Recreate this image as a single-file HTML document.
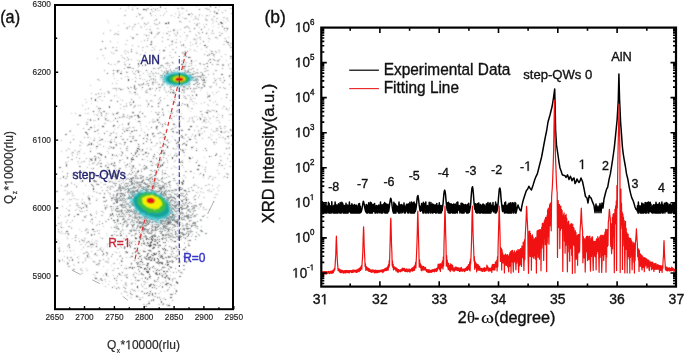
<!DOCTYPE html>
<html><head><meta charset="utf-8"><style>
html,body{margin:0;padding:0;background:#fff;}
svg{display:block;font-family:"Liberation Sans",sans-serif;will-change:transform;}
text{stroke-width:0.35px;}
</style></head><body>
<svg width="685" height="354" viewBox="0 0 685 354">
<defs><filter id="bl" x="-20%" y="-20%" width="140%" height="140%"><feTurbulence type="fractalNoise" baseFrequency="0.35" numOctaves="2" seed="3" result="t"/><feDisplacementMap in="SourceGraphic" in2="t" scale="2.6" xChannelSelector="R" yChannelSelector="G" result="d"/><feConvolveMatrix in="d" order="3" kernelMatrix="1 2 1 2 4 2 1 2 1" divisor="16" edgeMode="none" preserveAlpha="false"/></filter>
<filter id="sb" x="-20%" y="-20%" width="140%" height="140%"><feConvolveMatrix order="3" kernelMatrix="1 2 1 2 4 2 1 2 1" divisor="16" edgeMode="none" preserveAlpha="false"/></filter>
<filter id="soft" x="0" y="0" width="685" height="354" filterUnits="userSpaceOnUse"><feConvolveMatrix order="3" kernelMatrix="1 2 1 2 16 2 1 2 1" divisor="28" edgeMode="duplicate" preserveAlpha="false"/></filter>
<filter id="db" x="0" y="0" width="100%" height="100%"><feConvolveMatrix order="3" kernelMatrix="1 2 1 2 8 2 1 2 1" divisor="20" edgeMode="none" preserveAlpha="false"/></filter></defs>
<rect width="685" height="354" fill="#fff"/>
<g shape-rendering="crispEdges" stroke-width="1" filter="url(#db)">
<path stroke="#9c9c9c" d="M132 38.5h2M139 14.5h2M177 219.5h2M182 193.5h2M120 8.5h1M146 288.5h1M199 204.5h2M155 76.5h1M123 238.5h1M66 222.5h1M100 248.5h1M100 89.5h1M152 121.5h1M88 197.5h1M131 211.5h1M98 263.5h2M145 203.5h2M136 273.5h1M183 269.5h2M86 158.5h1M96 184.5h2M186 26.5h2M102 190.5h1M132 68.5h2M139 193.5h2M180 36.5h1M110 41.5h1M129 242.5h1M213 131.5h1M113 53.5h1M150 183.5h1M170 76.5h1M182 149.5h1M90 148.5h1M111 186.5h2M207 113.5h1M127 192.5h2M142 297.5h1M152 171.5h1M170 201.5h1M120 255.5h1M184 215.5h1M175 190.5h2M101 280.5h2M169 287.5h1M105 184.5h1M216 130.5h2M203 75.5h2M124 291.5h2M164 71.5h1M126 285.5h1M124 268.5h1M124 287.5h1M163 58.5h1M80 166.5h1M211 139.5h1M176 39.5h1M146 10.5h1M194 91.5h1M231 13.5h1M166 33.5h2M97 153.5h2M164 201.5h1M219 126.5h2M215 37.5h2M141 284.5h1M138 84.5h2M128 178.5h1M116 235.5h2M179 236.5h1M159 236.5h1M117 171.5h2M179 169.5h1M116 226.5h2M137 253.5h1M72 193.5h1M158 167.5h2M225 10.5h1M217 64.5h2M131 283.5h2M131 294.5h2M185 64.5h1M58 231.5h1M135 5.5h1M67 258.5h1M165 8.5h1M140 222.5h1M185 195.5h1M180 116.5h2M149 88.5h2M125 178.5h1M162 264.5h1M172 279.5h1M219 122.5h1M164 139.5h1M179 237.5h1M216 21.5h1M87 232.5h2M197 221.5h1M169 256.5h2M153 122.5h1M95 156.5h1M138 213.5h1M144 116.5h1M93 140.5h2M149 89.5h2M74 184.5h1M185 171.5h2M170 113.5h2M201 203.5h1M123 116.5h2M99 193.5h2M216 92.5h1M162 37.5h1M155 224.5h1M215 51.5h1M150 139.5h1M67 263.5h2M130 291.5h1M203 64.5h2M119 242.5h1M144 284.5h1M135 191.5h1M78 151.5h2M85 216.5h1M154 234.5h1M115 50.5h2M94 234.5h1M99 110.5h1M204 54.5h1M162 41.5h1M188 137.5h1M229 114.5h1M143 168.5h2M192 118.5h1M100 49.5h2M155 180.5h1M176 47.5h1M97 115.5h1M168 79.5h1M120 148.5h1M121 78.5h1M96 213.5h1M86 124.5h2M131 242.5h1M184 76.5h1M126 214.5h1M206 24.5h1M103 33.5h1M204 215.5h1M65 233.5h1M137 296.5h1M188 66.5h1M140 105.5h1M186 10.5h1M215 60.5h1M119 263.5h1M174 30.5h1M192 190.5h1M211 86.5h1M229 84.5h1M118 229.5h1M213 116.5h1M111 227.5h1M184 104.5h2M104 96.5h1M220 80.5h1M110 30.5h1M182 52.5h1M87 174.5h1M121 214.5h1M67 262.5h1M226 108.5h1M107 169.5h1M196 192.5h1M195 16.5h1M114 234.5h1M160 97.5h1M153 185.5h2M164 178.5h1M60 178.5h1M174 237.5h2M219 35.5h2M125 165.5h2M146 100.5h1M191 13.5h1M94 138.5h1M165 234.5h1M168 105.5h1M140 54.5h1M152 83.5h1M222 12.5h1M90 221.5h1M122 261.5h1M134 187.5h1M151 15.5h1M213 54.5h2M68 266.5h2M175 5.5h1M171 15.5h1M154 156.5h1M175 189.5h2M69 193.5h1M131 116.5h2M115 144.5h2M216 128.5h2M211 51.5h2M181 165.5h2M84 202.5h1M208 38.5h1M210 118.5h1M91 144.5h1M161 147.5h1M178 96.5h1M163 163.5h1M227 158.5h1M208 74.5h1M103 259.5h1M162 304.5h2M72 155.5h1M203 121.5h2M107 244.5h1M100 112.5h1M114 141.5h1M144 206.5h1M84 137.5h1M158 236.5h1M108 258.5h1M147 106.5h1M211 191.5h1M103 146.5h1M193 190.5h1M133 138.5h1M192 101.5h1M166 70.5h1M152 211.5h1M87 145.5h1M188 243.5h1M116 201.5h1M154 95.5h2M207 97.5h1M122 133.5h1M139 164.5h1M220 131.5h1M173 215.5h1M141 27.5h1M181 105.5h1M99 108.5h1M172 41.5h1M122 57.5h1M177 32.5h1M58 229.5h1M141 18.5h1M113 187.5h1M183 92.5h2M99 224.5h1M169 45.5h1M167 275.5h1M165 137.5h1M220 78.5h1M88 108.5h1M170 69.5h1M227 29.5h1M160 137.5h1M129 240.5h1M217 104.5h1M115 165.5h1M192 118.5h1M185 98.5h2M95 278.5h1M184 265.5h1M189 228.5h2M152 88.5h1M223 77.5h1M163 274.5h1M184 215.5h1M125 251.5h2M144 211.5h1M179 211.5h1M146 92.5h2M181 85.5h1M132 136.5h2M222 65.5h2M106 165.5h1M154 194.5h1M84 216.5h1M89 200.5h1M166 70.5h1M172 128.5h1M68 210.5h2M184 216.5h1M216 142.5h1M150 206.5h1M136 187.5h1M144 269.5h1M182 183.5h2M77 154.5h1M191 65.5h1M205 167.5h1M89 142.5h1M127 57.5h1M134 5.5h1M177 33.5h1M204 119.5h1M194 39.5h2M207 110.5h2M230 100.5h1M131 229.5h1M114 155.5h1M151 251.5h1M161 165.5h2M195 205.5h2M213 33.5h1M106 190.5h1M98 162.5h1M116 224.5h1M172 234.5h1M178 144.5h2M209 176.5h2M106 255.5h1M155 80.5h1M166 260.5h2M113 183.5h2M213 55.5h1M69 199.5h1M127 115.5h1M166 186.5h2M65 216.5h1M150 78.5h1M130 104.5h2M134 140.5h2M141 255.5h1M219 59.5h1M155 72.5h1M129 26.5h1M148 103.5h1M145 197.5h2M83 171.5h1M152 203.5h2M85 260.5h1M116 133.5h1M203 78.5h1M139 261.5h1M77 173.5h1M199 33.5h1M88 137.5h1M109 238.5h1M220 156.5h1M191 171.5h1M115 179.5h1M127 87.5h1M69 226.5h1M139 280.5h1M117 235.5h1M166 158.5h1M110 100.5h1M226 109.5h1M94 156.5h2M111 200.5h2M192 157.5h1M141 291.5h1M133 225.5h1M108 120.5h1M164 144.5h1M159 187.5h1M160 65.5h1M89 142.5h1M118 188.5h1M93 175.5h1M170 31.5h1M210 111.5h1M95 254.5h1M111 139.5h1M131 264.5h1M221 165.5h2M216 12.5h1M215 70.5h2M141 84.5h2M67 220.5h1M144 132.5h1M175 127.5h1M226 94.5h2M145 167.5h2M94 254.5h1M183 256.5h1M230 43.5h1M122 124.5h1M230 161.5h1M188 217.5h2M114 34.5h1M104 70.5h1M109 181.5h2M80 269.5h1M152 158.5h2M125 187.5h1M129 166.5h1M72 173.5h1M147 83.5h2M117 34.5h2M81 162.5h1M110 135.5h1M198 32.5h1M147 282.5h1M184 27.5h2M197 69.5h1M164 57.5h1M110 133.5h2M139 112.5h1M67 157.5h2M191 69.5h1M179 21.5h2M157 245.5h2M167 160.5h1M183 152.5h2M196 35.5h1M225 138.5h1M113 174.5h1M121 151.5h1M163 115.5h1M70 257.5h2M221 132.5h1M167 71.5h2M134 171.5h1M178 258.5h1M135 105.5h1M136 34.5h2M228 44.5h1M230 130.5h2M205 8.5h1M216 52.5h1M105 165.5h1M171 41.5h1M138 193.5h1M141 274.5h1M180 83.5h1M67 264.5h1M126 72.5h2M125 284.5h1M76 157.5h1M141 169.5h1M171 78.5h1M161 206.5h2M136 88.5h1M149 35.5h1M83 128.5h1M154 23.5h1M128 67.5h1M151 79.5h1M194 50.5h1M188 233.5h1M144 40.5h1M182 183.5h2M133 200.5h1M114 231.5h1M154 49.5h1M169 35.5h1M104 173.5h2M161 178.5h2M85 258.5h1M174 33.5h1M183 8.5h1M166 184.5h1M205 171.5h1M168 269.5h1M132 241.5h1M150 278.5h1M113 215.5h1M167 305.5h1M58 223.5h2M204 131.5h1M184 261.5h1M66 150.5h1M113 238.5h1M166 63.5h2M157 8.5h1M114 263.5h1M172 237.5h2M138 46.5h1M67 238.5h1M199 117.5h1M189 118.5h1M132 138.5h1M86 229.5h1M206 119.5h1M200 111.5h2M220 128.5h1M128 174.5h1M91 160.5h2M166 202.5h1M107 262.5h1M184 70.5h2M134 115.5h2M159 102.5h1M199 133.5h1M72 220.5h1M189 77.5h2M163 298.5h1M109 187.5h1M179 125.5h1M183 199.5h2M190 232.5h1M158 122.5h2M219 137.5h1M136 16.5h1M161 273.5h1M92 163.5h2M204 120.5h1M114 166.5h1M115 88.5h2M230 47.5h2M212 53.5h1M189 57.5h2M161 275.5h2M142 264.5h1M130 191.5h2M91 168.5h1M104 205.5h1M135 259.5h1M145 9.5h2M172 300.5h1M194 206.5h1M152 11.5h1M116 252.5h1M178 262.5h1M147 40.5h1M159 22.5h1M130 247.5h1M102 255.5h1M122 116.5h1M105 273.5h1M127 27.5h1M199 63.5h2M101 93.5h1M168 194.5h1M156 217.5h1M99 140.5h2M168 262.5h1M126 105.5h1M71 199.5h1M101 250.5h1M156 281.5h1M83 247.5h1M147 8.5h2M71 159.5h2M116 231.5h1M208 178.5h1M144 244.5h1M163 146.5h1M66 166.5h1M72 195.5h1M99 221.5h1"/>
<path stroke="#cccccc" d="M143 271.5h1M160 285.5h1M168 63.5h2M97 142.5h1M161 115.5h1M196 126.5h2M193 197.5h1M130 297.5h2M164 274.5h1M190 69.5h1M146 217.5h1M111 158.5h2M74 195.5h1M114 64.5h2M207 96.5h1M172 232.5h1M149 302.5h1M140 117.5h1M115 227.5h2M91 258.5h1M115 200.5h1M212 23.5h1M76 209.5h1M194 138.5h2M144 256.5h1M134 272.5h2M82 143.5h1M207 92.5h1M141 128.5h1M87 207.5h1M175 78.5h1M142 261.5h1M210 123.5h1M118 235.5h1M114 251.5h1M129 163.5h2M231 50.5h1M111 265.5h1M185 87.5h1M177 215.5h2M97 97.5h2M154 177.5h1M180 86.5h1M144 159.5h1M218 165.5h2M198 17.5h1M159 141.5h1M183 167.5h1M126 236.5h1M221 98.5h1M133 113.5h1M130 36.5h1M81 201.5h1M205 122.5h2M223 44.5h2M95 261.5h1M178 271.5h1M218 173.5h2M204 117.5h2M176 256.5h2M156 34.5h2M125 253.5h1M132 79.5h1M206 80.5h1M87 119.5h2M184 243.5h1M70 251.5h1M174 161.5h1M144 54.5h1M152 101.5h1M125 155.5h1M127 292.5h1M173 57.5h1M163 204.5h1M117 42.5h1M156 82.5h2M64 186.5h2M216 120.5h1M111 181.5h2M173 292.5h1M78 199.5h1M120 99.5h1M133 127.5h2M167 204.5h1M140 195.5h1M68 192.5h2M207 112.5h1M184 242.5h1M159 67.5h2M208 116.5h1M167 199.5h2M189 161.5h1M158 119.5h1M59 243.5h1M139 85.5h1M161 133.5h2M112 200.5h1M67 191.5h1M155 262.5h1M90 138.5h1M195 34.5h1M164 87.5h1M208 35.5h1M150 94.5h1M110 64.5h2M118 31.5h1M223 177.5h1M151 50.5h2M94 114.5h1M142 228.5h1M196 139.5h1M91 100.5h1M91 246.5h1M153 136.5h1M170 141.5h1M73 198.5h2M131 284.5h1M225 22.5h1M128 128.5h1M150 186.5h1M73 135.5h1M147 304.5h1M163 266.5h1M203 150.5h1M107 20.5h1M136 247.5h1M140 151.5h2M172 281.5h1M145 184.5h1M160 204.5h1M128 8.5h1M142 238.5h1M188 95.5h2M155 46.5h1M92 218.5h1M125 129.5h1M107 254.5h1M216 79.5h1M194 61.5h1M112 182.5h2M136 78.5h1M213 102.5h1M196 6.5h1M164 235.5h1M142 17.5h2M164 227.5h2M104 279.5h2M105 115.5h2M63 227.5h1M58 240.5h1M169 187.5h2M64 261.5h1M178 11.5h1M174 101.5h1M112 173.5h1M134 208.5h1M196 60.5h1M207 32.5h1M96 198.5h1M97 199.5h1M189 120.5h1M119 263.5h1M211 110.5h2M72 238.5h1M150 26.5h1M88 230.5h1M143 275.5h1M138 274.5h2M171 75.5h1M112 88.5h2M92 239.5h1M209 15.5h1M122 174.5h1M165 153.5h1M137 116.5h1M128 77.5h1M76 187.5h1M71 113.5h1M187 36.5h1M174 16.5h1M207 104.5h1M158 293.5h2M137 186.5h2M182 17.5h1M172 256.5h1M129 219.5h1M204 68.5h1M80 142.5h2M210 39.5h1M98 113.5h1M169 303.5h1M123 285.5h1M137 182.5h1M166 167.5h2M74 150.5h2M102 55.5h2M165 150.5h1M156 165.5h2M159 132.5h1M131 279.5h1M92 222.5h1M167 211.5h2M67 201.5h1M88 195.5h1M99 158.5h2M163 33.5h1M145 84.5h2M68 161.5h1M145 92.5h1M113 172.5h1M133 252.5h1M95 120.5h1M153 59.5h1M179 12.5h1M125 167.5h2M159 210.5h2M104 194.5h1M149 251.5h2M172 78.5h1M202 166.5h1M71 153.5h2M166 190.5h1M168 202.5h1M85 252.5h1M73 250.5h1M154 199.5h2M84 211.5h1M120 117.5h2M169 218.5h2M109 146.5h2M173 166.5h2M144 137.5h1M191 16.5h1M147 89.5h1M211 53.5h1M86 233.5h1M213 16.5h2M108 113.5h1M77 161.5h2M171 266.5h1M150 147.5h1M164 253.5h1M147 282.5h1M213 22.5h1M106 131.5h2M129 242.5h2M119 229.5h1M203 24.5h1M216 194.5h2M216 85.5h1M218 27.5h1M140 135.5h1M130 215.5h1M175 84.5h1M78 238.5h1M151 111.5h1M212 20.5h2M121 247.5h1M89 158.5h2M125 76.5h1M160 102.5h1M148 301.5h2M194 102.5h1M111 197.5h2M144 26.5h1M175 290.5h2M98 265.5h1M109 189.5h1M172 278.5h2M125 205.5h1M109 281.5h1M93 246.5h1M183 97.5h2M115 181.5h1M230 75.5h2M69 205.5h2M156 68.5h1M114 176.5h1M73 264.5h1M146 148.5h2M159 215.5h1M202 15.5h1M89 181.5h1M87 229.5h1M85 113.5h1M154 217.5h2M162 254.5h2M67 175.5h1M86 270.5h2M117 80.5h1M201 192.5h1M95 174.5h1M131 216.5h1M150 278.5h1M139 65.5h1M135 119.5h1M133 276.5h2M191 117.5h2M141 89.5h1M152 47.5h2M201 133.5h2M162 182.5h2M126 185.5h1M218 185.5h2M126 242.5h1M116 280.5h1M108 141.5h1M174 191.5h1M144 34.5h1M216 84.5h1M193 104.5h1M152 119.5h2M107 270.5h1M128 130.5h2M140 71.5h1M117 127.5h2M178 228.5h1M197 134.5h1M78 256.5h1M135 175.5h1M95 240.5h2M180 41.5h1M153 54.5h1M208 41.5h1M141 41.5h1M78 258.5h1M144 79.5h1M180 247.5h1M159 132.5h1M176 126.5h1M231 105.5h2M168 111.5h1M205 112.5h1M179 249.5h1M108 243.5h2M126 243.5h2M159 10.5h1M213 94.5h1M114 129.5h1M169 269.5h1M208 55.5h2M147 72.5h1M179 136.5h1M125 266.5h1M159 149.5h1M227 20.5h2M116 283.5h2M59 247.5h1M213 26.5h1M97 101.5h1M144 200.5h1M201 49.5h1M129 92.5h1M64 190.5h2M203 78.5h1M181 7.5h1M218 78.5h2M67 250.5h1M194 92.5h1M185 255.5h1M167 27.5h1M126 292.5h1M89 196.5h1M223 132.5h1M117 248.5h2M154 136.5h2M177 183.5h1M150 100.5h1M149 32.5h2M93 120.5h2M151 61.5h1M118 97.5h1M194 38.5h1M94 277.5h2M101 112.5h1M174 84.5h2M155 232.5h1M165 280.5h1M155 272.5h1M158 304.5h2M91 103.5h1M89 246.5h1M187 95.5h1M226 60.5h1M105 141.5h1M185 40.5h1M131 93.5h1M203 197.5h2M209 38.5h1M103 184.5h2M182 77.5h1M79 229.5h1M126 229.5h1M66 194.5h2M126 71.5h1M163 66.5h1M86 251.5h1M129 257.5h2M195 98.5h1M223 20.5h1M174 202.5h1M189 101.5h1M218 24.5h2M208 70.5h1M79 153.5h1M158 99.5h1M100 99.5h1M152 257.5h1M140 165.5h1M170 52.5h1M160 124.5h1M198 79.5h1M87 257.5h2M73 269.5h1M183 52.5h1M210 50.5h1M81 249.5h1M224 139.5h2M123 117.5h1M175 255.5h1M97 250.5h2M96 183.5h1M115 70.5h1M158 286.5h2M123 285.5h1M187 121.5h2M81 231.5h1M152 158.5h1M158 161.5h2M84 241.5h1M178 129.5h1M154 11.5h1M170 275.5h1M74 254.5h1M155 20.5h1M212 135.5h1M106 233.5h1M119 179.5h1M83 161.5h2M205 17.5h1M179 82.5h1M87 196.5h1M125 44.5h2M229 120.5h1M109 187.5h1M67 236.5h1M216 7.5h1M133 26.5h2M150 101.5h1M98 125.5h1M140 121.5h1M202 116.5h1M196 51.5h1M187 89.5h1M188 108.5h1M202 122.5h1M126 40.5h2M215 194.5h1M77 161.5h2M199 174.5h1M194 173.5h1M129 91.5h2M163 155.5h2M69 149.5h1M203 121.5h1M180 207.5h2M218 23.5h1M144 248.5h1M80 244.5h2M171 99.5h1M177 141.5h2M143 166.5h1M206 51.5h1M220 135.5h1M164 246.5h1M224 38.5h1M146 46.5h1M175 167.5h2M170 65.5h1M126 157.5h1M87 113.5h2M83 242.5h1M148 35.5h2M165 281.5h2M120 246.5h1M96 106.5h2M195 65.5h1M92 234.5h1M106 177.5h1M121 144.5h1M108 178.5h2M100 182.5h2M172 120.5h1M182 178.5h1M63 233.5h1M166 285.5h2M142 79.5h1M181 22.5h1M136 53.5h2M226 27.5h1M114 96.5h1M139 15.5h1M169 55.5h2M159 138.5h1M189 49.5h2M204 157.5h1M173 90.5h1M102 283.5h1M181 165.5h1M80 244.5h2M81 270.5h1M123 127.5h1M198 192.5h1M124 215.5h1M206 8.5h2M124 109.5h1M190 111.5h1M196 18.5h1M107 235.5h1M164 134.5h1M105 47.5h1M150 78.5h2M170 154.5h1M163 50.5h2M116 95.5h1M158 120.5h1M143 238.5h1M157 133.5h2M153 146.5h1M200 130.5h1M128 210.5h1M98 144.5h2M218 10.5h1M164 258.5h1M90 159.5h1M153 257.5h1M95 275.5h1M191 149.5h1M132 7.5h1"/>
<path stroke="#585858" d="M128 189.5h2M129.5 244v2M162 258.5h2M73 269.5h1M126 130.5h2M153 207.5h1M72.5 259v2M193 71.5h1M108 167.5h1M162 267.5h2M167.5 139v2M182.5 136v2M187 228.5h2M120.5 195v2M183 265.5h1M131 170.5h1M186 197.5h1M105.5 118v2M157 239.5h1M181 135.5h1M184 66.5h2M152 248.5h2M150 5.5h2M206 150.5h1M170 294.5h2M145 152.5h2M189 240.5h2M114 227.5h1M140 250.5h1M116 170.5h1M150 161.5h2M176 143.5h1M152.5 293v2M142.5 180v2M106.5 273v2M168 142.5h1M137.5 263v2M147 238.5h1M153.5 299v2M184 51.5h1M131 131.5h2M114 199.5h2M155.5 244v2M196 142.5h1M101 155.5h1M151.5 41v2M128 224.5h1M156 224.5h1M93 261.5h1M227 136.5h2M100 166.5h2M137 183.5h1M122 258.5h1M127 67.5h2M151 245.5h1M124 142.5h2M130 216.5h1M158 226.5h1M171 129.5h1M150 242.5h1M186 144.5h1M96 264.5h1M180 189.5h2M142.5 149v2M165 245.5h1M155 236.5h1M154 285.5h1M149 293.5h2M106.5 274v2M186 145.5h1M192 95.5h1M200 173.5h1M96 146.5h2M167.5 261v2M88 198.5h2M190 171.5h1M149 276.5h2M205 148.5h1M153.5 210v2M157 199.5h2M141 217.5h2M135 277.5h1M135 89.5h1M172 256.5h1M68 234.5h1M172 251.5h1M136 228.5h1M152.5 294v2M152 255.5h2M146 245.5h1M193 211.5h1M101 139.5h2M173 124.5h2M146 265.5h2M132 289.5h1M132 112.5h2M68 215.5h1M159 274.5h1M179 235.5h1M113 73.5h1M143 240.5h1M100 154.5h2M147 211.5h1M95.5 159v2M227 42.5h2M158 68.5h1M159 253.5h1M98 157.5h1M133 155.5h1M165 124.5h1M186.5 215v2M133 199.5h1M186 56.5h1M221.5 131v2M178 17.5h1M91.5 234v2M137 219.5h1M155 228.5h1M141 190.5h1M104 193.5h1M150 44.5h2M129 64.5h1M135 244.5h1M132 225.5h1M134 92.5h2M160 100.5h1M127.5 157v2M195 135.5h1M162 248.5h1M108 164.5h1M155 212.5h1M102 211.5h1M167.5 264v2M128 59.5h1M126 148.5h1M138 121.5h2M165 257.5h1M63.5 176v2M88 241.5h1M150 291.5h1M148 263.5h1M90 173.5h1M209 95.5h1M116 280.5h1M152 258.5h1M158 261.5h1M165 242.5h1M95 253.5h1M154 280.5h1M145.5 183v2M150 237.5h1M145 306.5h2M151 9.5h1M139 222.5h2M131 202.5h1M66.5 164v2M91 184.5h1M213 59.5h1M154 241.5h2M187.5 104v2M206 47.5h1M94 234.5h1M90.5 119v2M164 277.5h2M131 161.5h1M140 226.5h1M181 182.5h2M169 246.5h1M167 283.5h2M138 262.5h1M189 79.5h1M144 288.5h1M151 127.5h1M138 269.5h1M119 117.5h1M204.5 85v2M138 241.5h1M138.5 71v2M152 267.5h1M147 272.5h2M140 235.5h1M161.5 191v2M112 210.5h1M93 168.5h1M131 256.5h2M98 108.5h1M132 157.5h1M135 81.5h1M157 297.5h1M105.5 207v2M127 139.5h1M167 224.5h2M112.5 154v2M123 174.5h2M184.5 53v2M230 56.5h2M59.5 260v2M175 234.5h1M158 277.5h1M142 65.5h1M149 204.5h1M116 113.5h2M154 236.5h1M150.5 284v2M142 18.5h1M221 23.5h2M113.5 147v2M214 11.5h1M134 267.5h1M176 132.5h2M156 19.5h1M149 246.5h2M138.5 252v2M147 232.5h1M146 259.5h1M105.5 156v2M203.5 174v2M202 32.5h1M175 52.5h1M111 142.5h1M118 287.5h1M174 155.5h1M152 293.5h1M149 277.5h1M115 137.5h2M113 195.5h1M187 51.5h1M74 216.5h1M173 30.5h1M137 190.5h1M221 74.5h2M163 150.5h1M144 269.5h1M75 237.5h1M166 206.5h1M215 7.5h1M163 214.5h1M145.5 64v2M203 41.5h1M187 236.5h1M129 214.5h1M199 9.5h1M163 137.5h2M94.5 180v2"/>
<path stroke="#acacac" d="M200 39.5h1M89 242.5h1M227 143.5h2M96 148.5h1M139 264.5h2M174 139.5h1M95 94.5h2M153 186.5h2M126 60.5h1M124 185.5h1M128 52.5h1M179 14.5h1M94 127.5h1M176 251.5h1M185 134.5h2M145 116.5h1M114 239.5h2M108 92.5h2M138 146.5h2M124 162.5h1M196 148.5h1M143 73.5h1M132 187.5h1M185 47.5h1M144 204.5h2M75 113.5h1M174 198.5h2M153 246.5h1M189 31.5h2M82 270.5h1M207 9.5h1M109 182.5h1M62 206.5h1M67 193.5h1M61 140.5h1M146 29.5h1M132 45.5h1M77 124.5h2M88 254.5h1M222 64.5h2M105 221.5h2M219 32.5h1M156 288.5h1M178 145.5h1M105 261.5h2M129 116.5h2M155 112.5h2M165 203.5h1M156 143.5h2M120 104.5h1M120 191.5h1M96 225.5h1M226 18.5h2M181 239.5h1M157 243.5h1M194 184.5h1M206 127.5h2M193 71.5h2M103 275.5h1M166 11.5h1M177 208.5h1M174 210.5h1M65 186.5h2M132 71.5h1M197 160.5h1M124 15.5h2M204 127.5h2M196 76.5h2M139 135.5h1M147 139.5h1M85 109.5h1M179 126.5h2M78 205.5h1M213 201.5h1M105 118.5h2M126 106.5h1M200 72.5h2M61 231.5h1M193 205.5h2M67 246.5h1M185 237.5h1M186 35.5h2M166 140.5h1M116 278.5h1M199 23.5h1M153 227.5h1M105 166.5h1M205 19.5h2M164 72.5h1M130 136.5h1M201 114.5h2M58 201.5h1M214 16.5h1M226 31.5h1M164 267.5h2M86 242.5h2M216 153.5h1M164 13.5h1M160 160.5h2M159 205.5h1M161 70.5h1M197 38.5h1M84 204.5h2M116 90.5h1M178 245.5h1M194 130.5h1M135 77.5h1M179 260.5h1M155 175.5h1M175 190.5h1M113 238.5h1M181 92.5h1M111 52.5h1M196 25.5h2M219 87.5h2M192 134.5h1M173 123.5h1M217 170.5h1M167 277.5h2M147 46.5h1M123 230.5h1M159 164.5h1M224 88.5h2M98 129.5h1M79 210.5h1M134 24.5h2M173 132.5h1M141 258.5h1M119 170.5h1M75 235.5h2M157 183.5h2M76 205.5h2M67 233.5h2M184 89.5h1M136 212.5h1M185 144.5h1M92 158.5h1M119 185.5h2M176 156.5h2M184 208.5h1M121 71.5h1M70 222.5h1M101 187.5h1M157 263.5h1M128 6.5h1M185 149.5h1M164 206.5h2M89 164.5h1M120 246.5h1M105 286.5h1M175 246.5h2M192 14.5h1M126 103.5h1M140 85.5h1M117 62.5h1M153 8.5h1M137 186.5h1M184 204.5h1M158 254.5h1M68 148.5h1M89 203.5h2M122 100.5h1M113 275.5h1M105 170.5h1M123 287.5h2M85 244.5h1M181 61.5h1M183 56.5h2M130 105.5h1M118 70.5h2M196 185.5h1M172 101.5h1M119 288.5h1M139 297.5h1M58 217.5h1M159 50.5h1M169 84.5h1M139 97.5h1M171 260.5h2M83 253.5h2M177 8.5h2M135 173.5h2M117 268.5h2M172 81.5h1M229 68.5h1M182 232.5h1M69 131.5h2M150 278.5h1M192 120.5h1M168 155.5h1M211 156.5h1M135 280.5h1M169 87.5h1M173 63.5h1M137 94.5h1M166 304.5h1M190 97.5h1M100 279.5h2M62 199.5h2M158 103.5h1M155 172.5h1M158 32.5h2M167 223.5h1M70 130.5h1M179 95.5h1M145 52.5h1M104 93.5h1M215 101.5h1M103 249.5h1M224 126.5h2M153 260.5h1M137 193.5h1M189 21.5h1M160 256.5h1M181 211.5h1M163 15.5h1M132 214.5h1M191 236.5h1M134 201.5h2M126 28.5h2M127 148.5h1M144 217.5h2M72 173.5h2M172 235.5h1M169 217.5h1M165 63.5h1M164 123.5h1M89 161.5h1M175 42.5h2M114 286.5h1M185 177.5h1M120 256.5h1M119 256.5h1M198 130.5h1M181 8.5h2M112 47.5h2M184 18.5h1M114 139.5h1M165 204.5h1M96 243.5h1M192 234.5h1M148 74.5h1M132 27.5h1M83 161.5h2M65 178.5h2M206 15.5h2M116 228.5h1M134 106.5h1M154 121.5h2M71 191.5h1M106 190.5h2M91 93.5h1M113 120.5h1M166 92.5h1M171 249.5h1M158 281.5h1M149 29.5h2M198 80.5h1M107 151.5h1M197 23.5h1M213 82.5h2M165 122.5h1M97 58.5h1M193 185.5h2M227 174.5h2M135 74.5h1M131 117.5h1M136 295.5h1M120 136.5h2M160 143.5h1M182 151.5h1M121 55.5h1M154 268.5h2M147 135.5h1M173 128.5h1M163 185.5h2M177 67.5h1M228 65.5h1M132 183.5h2M154 226.5h1M61 233.5h1M160 283.5h1M182 60.5h1M203 120.5h1M230 58.5h2M100 278.5h2M135 94.5h1M82 199.5h1M225 38.5h1M103 254.5h1M121 293.5h1M195 43.5h2M188 79.5h2M231 72.5h1M216 117.5h2M199 195.5h1M178 270.5h2M167 62.5h1M164 98.5h1M179 15.5h1M197 79.5h1M176 111.5h1M82 220.5h2M168 289.5h1M158 270.5h1M175 35.5h2M163 162.5h2M166 262.5h1M141 232.5h1M213 73.5h1M208 137.5h2M129 122.5h1M184 51.5h2M230 63.5h1M216 139.5h1M174 102.5h2M140 78.5h1M59 232.5h1M159 98.5h1M121 193.5h1M82 105.5h1M169 65.5h1M138 154.5h2M138 105.5h1M93 274.5h1M124 51.5h1M118 273.5h2M159 23.5h1M224 132.5h1M132 29.5h1M135 278.5h1M183 92.5h1M187 106.5h2M203 177.5h1M150 267.5h1M87 133.5h1M177 249.5h1M165 278.5h1M86 252.5h2M160 159.5h2M189 28.5h1M163 141.5h1M208 121.5h1M128 217.5h1M98 280.5h1M214 144.5h1M196 41.5h1M159 161.5h1M101 215.5h2M87 246.5h2M95 217.5h1M103 201.5h1M136 175.5h1M150 73.5h1M219 126.5h2M117 112.5h2M86 207.5h1M157 33.5h2M145 61.5h2M157 192.5h1M180 193.5h1M224 168.5h1M97 79.5h2M92 223.5h1M121 280.5h1M71 228.5h1M208 105.5h1M209 86.5h1M127 128.5h1M127 76.5h1M132 37.5h2M134 235.5h1M131 59.5h1M155 240.5h2M124 62.5h1M119 170.5h1M213 177.5h1M120 191.5h1M116 83.5h1M136 52.5h1M163 193.5h1M144 264.5h1M168 31.5h1M96 211.5h1M140 105.5h1M125 53.5h1M221 56.5h1M173 261.5h1M117 72.5h1M181 8.5h1M176 39.5h1M155 145.5h1M99 80.5h1M86 102.5h1M112 83.5h1M87 167.5h1M151 100.5h1M219 6.5h1M121 247.5h1M225 54.5h1M119 162.5h1M215 177.5h1M171 168.5h1M209 111.5h1M228 132.5h1M147 23.5h1M164 242.5h1M118 88.5h2M86 122.5h2M174 285.5h1M181 83.5h1M61 222.5h1M182 273.5h1M140 111.5h1M92 196.5h1M193 122.5h1M221 128.5h1M191 108.5h2M209 59.5h1M138 154.5h1M154 296.5h2M222 33.5h1M206 162.5h1M210 11.5h1M68 245.5h2M155 82.5h1M204 27.5h1M72 152.5h2M118 208.5h1M177 208.5h2M146 138.5h2M204 102.5h1M138 214.5h2M120 108.5h1M118 214.5h2M68 226.5h1M203 126.5h1M61 185.5h1M146 156.5h2M178 80.5h2M137 244.5h1M138 23.5h1M143 84.5h1M99 260.5h2M152 11.5h1M124 238.5h1M114 165.5h1M229 45.5h1M172 174.5h2M112 113.5h1M154 191.5h2M182 53.5h1M169 219.5h2M190 99.5h2M136 218.5h1M158 60.5h1M116 47.5h1M126 257.5h1M150 201.5h1M98 280.5h1M179 73.5h1M157 24.5h1M159 53.5h1M212 185.5h1M203 209.5h1M135 71.5h1M119 61.5h1M179 129.5h1M171 113.5h2M184 32.5h1M76 199.5h1M229 147.5h1M154 281.5h2M172 40.5h1M99 96.5h2M126 150.5h2M231 68.5h1M186 26.5h1M143 168.5h1M167 39.5h2M74 269.5h1M214 12.5h1M222 82.5h2M111 52.5h1M117 259.5h1M123 175.5h1M137 189.5h2M152 163.5h1M136 250.5h2M176 272.5h1M99 160.5h2M96 164.5h2M99 261.5h1M144 242.5h1M138 13.5h1M107 91.5h2M211 33.5h1M220 160.5h2M147 253.5h1M74 175.5h1M133 229.5h1M172 240.5h1M224 153.5h1M177 112.5h1M186 251.5h2M188 27.5h1M174 99.5h2M108 192.5h1M143 281.5h2M77 257.5h1M155 90.5h1M231 87.5h1M168 257.5h2M199 37.5h2M94 162.5h1M139 61.5h1M223 87.5h1M217 60.5h2M218 120.5h1M72 175.5h1M124 220.5h1M163 205.5h1M186 141.5h2M122 199.5h1M193 89.5h1M214 60.5h2M185 18.5h2M62 171.5h1M157 178.5h1M190 42.5h1M202 138.5h1M94 242.5h1M130 87.5h2M109 243.5h1M169 67.5h1M105 173.5h1M150 293.5h1M162 81.5h2M212 30.5h1M207 46.5h1M159 112.5h1M102 251.5h1M127 295.5h1M222 117.5h1M221 33.5h1M197 119.5h1M171 57.5h1M113 208.5h1M217 187.5h1M167 162.5h1"/>
<path stroke="#bcbcbc" d="M118 176.5h1M172 42.5h1M138 196.5h1M71 182.5h1M172 280.5h1M180 42.5h1M137 70.5h2M146 126.5h1M116 136.5h1M157 152.5h1M77 152.5h1M131 165.5h1M133 196.5h1M109 193.5h2M104 117.5h1M80 149.5h1M222 108.5h1M171 74.5h2M104 133.5h1M171 241.5h1M209 189.5h1M136 181.5h2M64 256.5h1M182 63.5h2M115 168.5h1M184 243.5h1M216 18.5h2M158 112.5h2M124 23.5h1M123 106.5h2M133 5.5h1M115 206.5h1M108 262.5h1M147 269.5h1M150 149.5h2M231 144.5h2M165 47.5h1M92 243.5h1M94 231.5h2M61 151.5h1M104 58.5h1M210 134.5h1M183 138.5h2M93 144.5h1M137 177.5h1M171 112.5h2M161 150.5h2M106 120.5h2M86 215.5h1M174 288.5h1M87 178.5h1M192 213.5h2M101 211.5h2M215 131.5h1M164 291.5h1M91 251.5h1M159 67.5h1M133 290.5h1M229 142.5h1M100 144.5h1M114 147.5h1M91 247.5h1M80 211.5h2M175 84.5h1M63 251.5h1M66 176.5h2M208 184.5h2M125 283.5h2M78 207.5h1M90 148.5h1M208 9.5h2M114 197.5h1M80 181.5h1M143 304.5h2M217 61.5h2M172 49.5h2M184 96.5h2M168 176.5h2M162 108.5h1M105 209.5h1M134 215.5h2M193 197.5h1M110 186.5h1M131 201.5h2M177 30.5h1M164 184.5h1M161 257.5h2M78 177.5h1M219 52.5h1M154 185.5h1M230 78.5h2M107 246.5h1M189 63.5h1M126 239.5h2M193 146.5h1M148 265.5h1M163 51.5h1M187 35.5h1M86 210.5h2M163 192.5h1M184 75.5h1M149 122.5h1M175 149.5h1M165 130.5h1M158 241.5h1M87 137.5h1M108 276.5h1M85 217.5h1M91 173.5h2M179 56.5h1M173 225.5h2M139 261.5h1M209 100.5h2M216 104.5h1M163 152.5h1M231 69.5h1M136 152.5h1M133 137.5h1M60 167.5h1M80 141.5h1M85 185.5h1M88 257.5h1M103 226.5h1M222 137.5h2M225 142.5h1M148 22.5h1M99 230.5h1M84 153.5h1M128 233.5h2M186 257.5h1M176 148.5h1M178 251.5h1M173 116.5h2M212 31.5h1M143 250.5h1M196 116.5h1M147 160.5h1M136 70.5h1M196 76.5h1M139 237.5h1M172 136.5h1M121 235.5h1M123 129.5h1M155 24.5h2M188 69.5h2M226 40.5h1M62 259.5h1M192 44.5h1M183 190.5h2M185 135.5h1M78 163.5h1M218 134.5h1M185 62.5h2M162 137.5h2M213 189.5h1M180 29.5h1M162 71.5h1M206 20.5h2M190 212.5h1M167 95.5h1M142 154.5h1M79 207.5h2M176 195.5h1M174 278.5h2M228 148.5h2M121 275.5h1M139 234.5h1M200 43.5h1M158 218.5h1M182 160.5h1M86 133.5h1M107 181.5h1M196 24.5h2M212 92.5h1M114 226.5h1M164 58.5h1M158 278.5h1M81 273.5h2M96 255.5h2M79 145.5h2M101 247.5h1M209 191.5h1M60 226.5h1M159 244.5h1M229 45.5h2M113 263.5h1M115 206.5h1M136 222.5h2M157 129.5h1M155 233.5h1M142 47.5h2M177 175.5h1M182 201.5h1M199 87.5h1M193 121.5h2M200 64.5h1M108 164.5h2M160 224.5h1M165 72.5h1M218 114.5h1M195 224.5h1M193 208.5h2M103 266.5h1M141 18.5h2M104 123.5h2M199 15.5h1M214 197.5h2M154 135.5h1M56 239.5h1M173 29.5h2M165 170.5h1M97 224.5h1M147 101.5h1M108 93.5h1M167 65.5h1M66 208.5h1M84 217.5h1M163 83.5h1M197 73.5h2M110 121.5h1M173 180.5h2M208 29.5h1M222 33.5h1M137 60.5h1M125 10.5h1M144 79.5h1M108 22.5h1M129 102.5h2M193 98.5h1M62 260.5h1M132 127.5h2M196 86.5h2M170 82.5h1M160 142.5h1M108 153.5h1M157 229.5h2M145 91.5h1M180 199.5h1M175 153.5h2M115 33.5h2M156 285.5h1M181 137.5h1M228 64.5h1M97 231.5h1M168 211.5h2M133 73.5h2M75 210.5h1M202 116.5h1M200 90.5h1M88 253.5h1M99 137.5h1M170 87.5h2M93 231.5h1M224 128.5h1M203 192.5h1M98 163.5h1M159 132.5h1M117 156.5h1M164 223.5h2M119 274.5h2M122 129.5h2M223 17.5h2M152 84.5h2M85 238.5h1M225 164.5h1M74 265.5h1M157 186.5h1M182 118.5h2M125 282.5h1M228 138.5h1M109 135.5h1M228 37.5h1M150 180.5h1M91 241.5h1M126 223.5h1M162 220.5h2M108 260.5h1M207 190.5h2M208 60.5h1M82 262.5h2M119 213.5h1M181 129.5h1M229 166.5h2M125 275.5h2M98 111.5h1M157 28.5h2M187 240.5h2M218 50.5h2M153 162.5h1M114 88.5h1M168 70.5h1M142 50.5h1M166 145.5h1M178 149.5h1M124 275.5h1M157 172.5h1M145 135.5h1M223 106.5h2M216 83.5h1M147 38.5h2M178 243.5h1M154 20.5h1M158 256.5h1M135 283.5h1M173 236.5h1M159 255.5h2M175 160.5h1M216 64.5h1M205 77.5h2M94 125.5h1M125 50.5h1M178 239.5h1M97 264.5h2M197 46.5h1M140 234.5h2M179 229.5h2M167 174.5h1M157 10.5h1M82 211.5h1M117 179.5h1M122 159.5h1M126 235.5h1M97 175.5h1M175 13.5h1M123 202.5h2M170 257.5h1M155 15.5h1M209 118.5h2M207 94.5h1M194 23.5h1M119 125.5h1M123 233.5h1M230 8.5h2M108 186.5h1M199 27.5h1M114 95.5h1M109 216.5h1M154 37.5h1M191 136.5h1M187 70.5h2M178 172.5h2M158 64.5h1M118 25.5h1M140 228.5h1M175 180.5h1M186 204.5h1M61 224.5h1M183 95.5h1M195 202.5h1M110 196.5h1M85 99.5h1M139 238.5h1M162 112.5h2M90 85.5h1M103 212.5h1M123 89.5h1M166 239.5h1M224 41.5h1M197 19.5h2M88 176.5h1M114 268.5h1M98 233.5h2M114 78.5h1M155 36.5h1M184 155.5h1M138 290.5h1M198 131.5h1M113 216.5h1M183 175.5h2M108 180.5h1M117 50.5h1M127 51.5h1M228 110.5h1M171 248.5h1M179 197.5h1M141 278.5h2M196 103.5h1M125 65.5h1M119 252.5h1M76 203.5h2M106 207.5h2M148 230.5h1M93 191.5h2M131 210.5h1M137 244.5h1M157 213.5h1M226 131.5h1M139 221.5h1M83 193.5h1M141 186.5h1M171 44.5h2M96 157.5h1M89 256.5h1M218 9.5h1M165 91.5h1M181 113.5h1M226 28.5h1M126 117.5h2M211 129.5h1M105 281.5h1M144 288.5h1M168 268.5h1M144 34.5h1M97 241.5h1M138 250.5h1M186 38.5h1M145 24.5h2M94 262.5h1M108 284.5h1M133 107.5h1M58 248.5h2M124 184.5h1M120 200.5h1M58 259.5h1M102 100.5h1M180 136.5h1M214 56.5h1M119 154.5h1M213 74.5h1M180 36.5h1M165 68.5h2M126 128.5h1M194 71.5h1M190 45.5h1M213 110.5h2M166 188.5h1M140 123.5h1M138 188.5h1M159 265.5h1M126 183.5h1M193 39.5h2M139 60.5h1M177 185.5h2M96 244.5h1M129 136.5h1M126 274.5h2M218 91.5h1M112 270.5h2M116 142.5h1M174 161.5h1M150 140.5h1M193 19.5h1M134 228.5h1M146 304.5h1M211 19.5h1M170 271.5h1M96 192.5h2M128 268.5h1M148 129.5h1M119 143.5h2M204 117.5h2M83 240.5h2M81 268.5h1M147 259.5h1M194 216.5h2M98 133.5h1M171 195.5h1M225 131.5h1M194 116.5h1M138 185.5h1M201 103.5h1M97 230.5h1M230 43.5h2M180 235.5h1M118 218.5h1M100 237.5h1M194 136.5h2M139 75.5h2M226 173.5h2M165 183.5h2M180 82.5h1M229 108.5h1M208 61.5h1M137 156.5h1M171 251.5h1M57 178.5h1M86 268.5h1M140 250.5h1M200 191.5h1M148 22.5h1M125 247.5h1M190 220.5h1M160 15.5h1M205 209.5h2M155 215.5h1M160 291.5h1M151 31.5h1M138 263.5h1M212 18.5h1M131 289.5h2M168 241.5h1M118 172.5h1M162 282.5h2M176 115.5h1M147 80.5h1M135 291.5h1M178 104.5h1M107 162.5h1M70 250.5h1M108 148.5h2M151 258.5h1M99 249.5h2M160 123.5h1M224 176.5h2M141 130.5h1M150 286.5h1M224 30.5h1M140 125.5h1M182 13.5h1M134 241.5h2M143 264.5h1M178 72.5h1M71 227.5h1M138 191.5h1M218 190.5h1M217 38.5h1M205 185.5h2M204 169.5h2M180 82.5h2M86 228.5h1M84 238.5h1M139 78.5h1M117 118.5h1M96 114.5h1M113 75.5h1M106 205.5h2M81 239.5h1M118 70.5h1M170 253.5h1M110 189.5h1M140 26.5h1M173 241.5h1M127 175.5h1M126 236.5h1M204 26.5h1M199 14.5h1M65 162.5h2M60 215.5h1M68 244.5h2M124 64.5h2M71 183.5h1M142 177.5h2M167 139.5h1"/>
<path stroke="#808080" d="M94 131.5h2M124 58.5h1M157 163.5h2M142 262.5h1M142 274.5h2M69 260.5h1M142 224.5h2M151.5 230v2M139 117.5h1M151 106.5h1M152 106.5h1M151.5 259v2M158 133.5h1M222 68.5h1M128 210.5h1M129 233.5h1M127 146.5h1M135 197.5h2M129 127.5h1M117 276.5h1M160 153.5h2M173 253.5h1M166 240.5h1M142 286.5h1M79 158.5h1M161 262.5h1M181 161.5h1M88 129.5h2M96 200.5h1M147 224.5h2M212 179.5h1M158 263.5h2M160.5 187v2M130 133.5h1M138 66.5h1M138 192.5h1M168 91.5h1M141 245.5h1M171 247.5h1M67 257.5h1M135.5 217v2M153 79.5h1M125 177.5h1M111 256.5h1M178 249.5h1M85 230.5h1M198 187.5h1M149 233.5h2M92 244.5h2M136 150.5h2M144 216.5h2M171 254.5h1M135 152.5h2M158 260.5h1M104 201.5h2M124 144.5h1M143.5 240v2M175 268.5h1M153 247.5h2M139 299.5h2M167 76.5h1M134 290.5h1M160 188.5h2M146 90.5h1M122 139.5h2M152 134.5h1M213 142.5h2M136 211.5h1M145 282.5h1M125 199.5h1M139 237.5h2M166 237.5h1M176 236.5h2M160 222.5h2M195 18.5h1M182 103.5h1M153 210.5h1M91 219.5h2M177 146.5h1M159 87.5h2M137 266.5h1M145 153.5h1M163 303.5h1M124 68.5h1M147 264.5h1M148 239.5h2M157 237.5h1M206 63.5h2M212 64.5h1M159 117.5h1M164 152.5h1M174 257.5h2M180 272.5h2M203 207.5h1M158.5 206v2M111 164.5h1M142 291.5h1M176 281.5h1M201 188.5h1"/>
<path stroke="#242424" d="M167 105.5h1M91.5 143v2M150 242.5h2M142 262.5h1M149.5 285v2M175 231.5h1M161.5 202v2M141 207.5h2M133 159.5h1M226 41.5h1M141 259.5h1M93 111.5h1M174 241.5h2M167.5 146v2M155 293.5h1M99 153.5h1M219 163.5h1M165 214.5h1M139 149.5h1M147 265.5h1M179.5 121v2M96 246.5h1M178 142.5h1M162 276.5h1M216 111.5h1M144 257.5h1M128.5 79v2M95.5 99v2M186.5 199v2M143.5 228v2M141 273.5h1M137.5 286v2M158 103.5h1M177 105.5h2M145 220.5h2M127 164.5h1M164 252.5h1M160 147.5h1M135 238.5h2M82 203.5h1M162.5 164v2M177 196.5h2M151 242.5h1M151 142.5h1M157 258.5h1M156 253.5h1M149 211.5h1M98 184.5h1M144.5 213v2"/>
<path stroke="#6c6c6c" d="M157 269.5h1M122 272.5h1M153 271.5h1M156 274.5h1M179 176.5h1M141 190.5h1M121.5 260v2M116 145.5h1M56 191.5h2M139 232.5h1M182 150.5h2M151 241.5h1M106 113.5h1M88 144.5h2M141 171.5h1M152 295.5h1M147.5 278v2M171 294.5h2M102 238.5h1M142 238.5h1M183 143.5h2M156 191.5h1M147.5 212v2M139 227.5h2M169 266.5h1M160.5 6v2M132 9.5h1M113 203.5h2M155 245.5h1M79 166.5h1M160 299.5h1M165 264.5h1M133 217.5h1M211 53.5h1M146 229.5h1M172 131.5h2M65 134.5h2M152 133.5h2M169 261.5h2M130 67.5h1M193 177.5h1M208 96.5h2M125 288.5h1M159 154.5h1M130 178.5h2M154 170.5h1M176.5 258v2M157 182.5h1M162 172.5h1M108 63.5h1M102 223.5h1M188 245.5h2M162.5 262v2M168 278.5h2M119 168.5h2M70 142.5h1M181 130.5h2M173 272.5h1M148 250.5h1M156 126.5h2M79 241.5h1M222 115.5h1M164 144.5h2M131 49.5h1M124.5 246v2M152 229.5h1M126 277.5h2M191 187.5h1M182 144.5h1M137 199.5h1M154 235.5h1M144 169.5h1M151 254.5h1M157 279.5h1M117 200.5h1M111 163.5h1M167 250.5h1M175 293.5h1M154 239.5h2M130 141.5h1M93 180.5h1M75 240.5h1M162.5 286v2M145.5 277v2M135.5 153v2M145 258.5h2M181 45.5h1M112 254.5h1M146.5 166v2M147 243.5h2M155 227.5h2M110.5 141v2M182 188.5h1M59.5 250v2M106 200.5h1M183 234.5h2M137 280.5h2M179 162.5h2M166 224.5h2M148.5 257v2M146 265.5h1M127 204.5h2M229 154.5h1M135 248.5h1M122.5 152v2M138 182.5h1M159 297.5h1M120 195.5h1M166 271.5h1M229.5 75v2M156 288.5h1M150 260.5h1M76 186.5h1M179 276.5h2M148 259.5h1M120 89.5h2M144 182.5h1M166 283.5h1M114 176.5h2M158 185.5h1M165 257.5h2M116 155.5h1M133 209.5h1M59 167.5h2M148 295.5h2M191 63.5h1M113 125.5h2M128 67.5h2M114.5 162v2M141 243.5h1M188.5 234v2M226 97.5h1M147 292.5h1M67.5 184v2M183.5 44v2M98.5 118v2M153 136.5h1M127 188.5h1M170 86.5h1M103.5 253v2M161 256.5h2M137 150.5h1M101 113.5h1M131 158.5h1M127 198.5h1M144 251.5h2M150 243.5h1M231 114.5h1M100 163.5h2M110 206.5h2M142 211.5h2M111 100.5h1M122 219.5h2M149 259.5h1M134.5 87v2M202.5 74v2M103 111.5h2M131 153.5h1M135 237.5h1M139.5 236v2M134 248.5h1M165 253.5h1M121 265.5h1M144 23.5h1M171 222.5h1M162.5 209v2M157 114.5h2M133 165.5h1M138 266.5h2M95 181.5h2M98 93.5h1M154 287.5h1M118 228.5h1M73 139.5h1M117.5 220v2M69 214.5h1M129 118.5h1M171 285.5h1M162 231.5h1M96 272.5h2M115 210.5h1M131 99.5h1M113 126.5h1M162 151.5h1M104 197.5h1M93 186.5h1M163 157.5h1M113 132.5h1M160 132.5h1M94 156.5h1M134 260.5h1M134.5 85v2M107 187.5h1M167 290.5h1"/>
<path stroke="#343434" d="M111 147.5h1M153 156.5h1M161 256.5h2M144 195.5h1M156 270.5h1M180 187.5h1M137 151.5h1M147 242.5h1M161 255.5h1M151 300.5h1M155 197.5h1M132.5 267v2M132 172.5h1M157.5 242v2M206 33.5h1M137 148.5h2M150 13.5h1M140 223.5h2M126 252.5h2M81 208.5h1M170 92.5h1M93.5 188v2M138 258.5h1M184 190.5h2M156 158.5h1M154 258.5h1M177.5 222v2M162 235.5h2M90 214.5h1M143 243.5h2M162 238.5h1M117 121.5h1M231 135.5h2M143 9.5h1M157 274.5h1M176 84.5h1M154.5 259v2M157.5 119v2M156.5 272v2M158 191.5h1M148 206.5h2M107 253.5h1M197 169.5h2M167 264.5h2M168 305.5h2M180 149.5h1M152 221.5h1M196 150.5h1M117 193.5h2M129 267.5h1M140 267.5h2M110 214.5h1M173 90.5h1M183 249.5h2M115 118.5h1M168.5 22v2M150 291.5h1M121 172.5h1M146 271.5h2M165.5 249v2M147 267.5h1M154 244.5h1M160.5 165v2M90 159.5h2M162 109.5h1M224 80.5h1M107 167.5h1M149.5 268v2M152.5 239v2M154 175.5h2M130 246.5h1M128.5 123v2M120 193.5h2M148 223.5h1M189.5 157v2M142 113.5h1M190 126.5h2M168 190.5h1M189 139.5h2M95 278.5h2M144 9.5h1M140.5 238v2M151 260.5h1M144 293.5h1M187 205.5h1M165 273.5h1M177 110.5h1M90 151.5h1M154 254.5h2M198 165.5h2M153 266.5h1M149 245.5h2M86.5 205v2M102 126.5h2M165 23.5h2M134 248.5h2M172 62.5h1M167 72.5h1M89 199.5h1M201 29.5h1M131 263.5h1M178.5 195v2M143 138.5h1M147 222.5h1M144 268.5h2M152 237.5h1M157 239.5h1M86 173.5h1M181.5 81v2M170 233.5h1M172 220.5h1M163 249.5h1M180 207.5h2M163 271.5h2M77 214.5h2M148 253.5h1M147 272.5h2M92 229.5h2M185 238.5h1M160 257.5h1M146 256.5h1M224 28.5h1M111 218.5h1M172.5 157v2M190 88.5h1M112.5 213v2M160 220.5h1M191.5 225v2M179.5 261v2M173 248.5h1M153 244.5h1M114 278.5h1M143 227.5h1M148 245.5h1M147 263.5h2M161 194.5h1M174 248.5h1M113 114.5h1M78 262.5h1M79 115.5h2M91 98.5h1M210 6.5h1M147.5 134v2M146.5 238v2M159 273.5h1M178 258.5h1M168 182.5h1M154 260.5h1M141 213.5h2M170 284.5h1M113 165.5h1M136 296.5h2M138 144.5h1M143 251.5h1M148 104.5h1M117.5 70v2M134 130.5h1M151.5 32v2M152 287.5h1M189 158.5h2M155.5 192v2M184.5 256v2M227 28.5h1M143 143.5h1M209 54.5h1"/>
<path stroke="#464646" d="M107 73.5h1M176 282.5h2M178 154.5h1M132 253.5h1M120 223.5h1M137 115.5h2M162 126.5h1M143 154.5h1M140 186.5h1M150 244.5h1M136 200.5h1M230 129.5h1M158 133.5h1M146 190.5h1M97 130.5h1M160 194.5h1M109.5 106v2M163 114.5h1M200.5 118v2M83 207.5h1M117 101.5h1M210 59.5h1M182 89.5h1M128 214.5h1M216 154.5h1M95.5 158v2M152.5 178v2M153 284.5h1M120 233.5h1M113 70.5h1M121 155.5h1M156 88.5h1M147.5 254v2M155 172.5h1M165 299.5h1M140 227.5h1M134 230.5h2M161 302.5h1M117 219.5h1M82.5 180v2M167 262.5h1M209 156.5h1M87 134.5h1M130 141.5h2M196 162.5h1M186 228.5h1M138.5 116v2M161 263.5h2M139 232.5h1M172 214.5h2M90 127.5h2M216 13.5h2M142.5 199v2M172.5 261v2M121 210.5h1M151 236.5h2M102 251.5h1M118 61.5h1M146 193.5h2M155 9.5h1M167 222.5h2M144 225.5h2M159 262.5h2M131 51.5h1M227 177.5h1M164 248.5h1M161 216.5h2M151 226.5h1M139 253.5h1M138.5 63v2M161.5 193v2M207 66.5h1M116 208.5h2M161 269.5h1M139 271.5h1M132 193.5h1M111 198.5h2M165 173.5h1M172 197.5h2M145 60.5h1M131 181.5h1M129 242.5h1M153 247.5h2M177 283.5h1M183 237.5h1M108.5 173v2M210 62.5h1M140 209.5h1M177 142.5h1M204 45.5h2M131.5 179v2M170 297.5h2M115 173.5h1M56 225.5h1M102 41.5h1M142 87.5h1M158 259.5h1M188 57.5h2M148 85.5h1M196.5 94v2M164.5 75v2M158 106.5h1M82 240.5h1M95 174.5h1M146 269.5h1M186.5 261v2M173 148.5h1M137.5 195v2M154 179.5h1M151 284.5h1M171 118.5h1M130 267.5h1M105 48.5h1M111 235.5h2M156 262.5h2M134 106.5h1M191.5 60v2M172 230.5h1M120 73.5h2M103 197.5h2M153.5 204v2M182.5 183v2M183 66.5h1M146 35.5h1M188 129.5h2M204 80.5h1M159 241.5h1M148 153.5h1M144 165.5h1M113 220.5h2M120 235.5h2M149 194.5h2M104 133.5h1M128 88.5h1M141 211.5h1M149 250.5h2M100 108.5h1M146 70.5h1M149 222.5h1M135.5 251v2M162 239.5h1M85 132.5h2M165 235.5h2M175 232.5h1M176 221.5h2M175 140.5h1M94 173.5h1M149 257.5h2M137 115.5h1M163 242.5h1M87.5 255v2M185 247.5h1M156.5 127v2M147 220.5h1M108 219.5h1M99.5 176v2M137 171.5h2M146 225.5h1M142 176.5h2M129 216.5h2M131 159.5h2M106 252.5h1M115 185.5h1M99.5 176v2M177 255.5h1M159 270.5h1M158 226.5h1M61 227.5h1M150 256.5h1M69 247.5h1M159 239.5h1M226 148.5h1M182 225.5h1M172 92.5h2M201 128.5h1M161 263.5h1M163.5 198v2M117 216.5h1M124 248.5h1M139 256.5h2M119 216.5h2M149 274.5h1M162 239.5h1M163 153.5h2M189 202.5h1M143 83.5h1M116.5 174v2M184.5 72v2M176 155.5h1M163 134.5h2M176.5 290v2M199 204.5h1M170 267.5h2M147.5 195v2M194 28.5h1M66 231.5h2M183.5 180v2M147 271.5h2M130 293.5h1M158 247.5h1M182.5 200v2M206 112.5h2M207 55.5h1M165 284.5h2M133 274.5h1M124 131.5h1M117 206.5h1M168.5 229v2M148 303.5h2M168.5 256v2M150 189.5h1M169 279.5h1M101 115.5h1M136 156.5h1M161.5 301v2M90 244.5h2M116 202.5h2M109 170.5h1M67 173.5h1M151 182.5h1M222 26.5h1M199.5 134v2M188 14.5h2M136 130.5h1M155 273.5h2M163 50.5h2M73 175.5h1M176 247.5h1M181 64.5h2M136 140.5h1M165 249.5h1M215 80.5h1M136 262.5h1M151.5 238v2M167 271.5h1M167 223.5h2M154 154.5h1M155 229.5h1M183 249.5h1M162 239.5h1M131 243.5h1M220 22.5h2M162 258.5h1M126 268.5h1M145.5 222v2M142 159.5h1M157.5 217v2M150 221.5h1M159 245.5h2M92 185.5h1M146 141.5h1M168 235.5h1M166.5 275v2M91 215.5h1M119 274.5h1M153 253.5h2M123 114.5h1M116 288.5h1M182 162.5h1M162 124.5h1M158 251.5h2M112 287.5h1M146 293.5h1M133.5 101v2M156 272.5h1M137 8.5h1M176 211.5h1M191 147.5h2M150 210.5h1M215 155.5h1M140 261.5h2M159 188.5h1M162 224.5h1M155 179.5h1"/>
<path stroke="#7a8c8e" d="M147 190.5h1M178 217.5h1M156 213.5h1M164 87.5h1M181 205.5h1M162 84.5h1M123 216.5h1M123 207.5h2M148 193.5h1M185 198.5h1M148 212.5h1M158 196.5h2M131 209.5h1M201 79.5h1M125 189.5h1M146 197.5h1M140 207.5h2M119 216.5h1M132 166.5h2M166 196.5h1M127 203.5h1M131 182.5h2M181 209.5h2M172 205.5h2M147 199.5h2M188 77.5h2M199 76.5h2M171 211.5h1M203 82.5h1M146 191.5h2M126 212.5h1M161 221.5h2M164 238.5h2M155 201.5h2M160 67.5h1M121 200.5h1M152 196.5h2M160 213.5h2M151 193.5h1M150 198.5h2M139 206.5h1M161 216.5h1M129 210.5h1M160 199.5h2M159 231.5h2M198 234.5h1M142 225.5h1M121 206.5h1M142 207.5h2M158 225.5h2M145 206.5h1M135 178.5h1M149 196.5h1M148 217.5h1M139 217.5h2M129 212.5h1M114 191.5h1M188 82.5h1M149 76.5h2M145 222.5h1M160 206.5h1M151 222.5h1M163 228.5h1M176 68.5h2M164 183.5h2M141 213.5h2M154 235.5h2M169 79.5h1M147 210.5h2M156 194.5h1M119 198.5h1M126 189.5h1M156 224.5h1M148 213.5h2M190 80.5h2M169 194.5h2M122 229.5h1M166 218.5h2M196 82.5h2M128 197.5h1M133 192.5h1M161 179.5h1M181 73.5h2M183 196.5h2M119 216.5h2M132 196.5h2M151 218.5h1M151 199.5h1M174 205.5h2M160 229.5h1M167 73.5h2M171 85.5h1M157 203.5h1M135 190.5h2M127 209.5h1M115 201.5h2M169 213.5h1M129 196.5h1M177 78.5h1M168 211.5h2M139 187.5h1M144 194.5h1M141 222.5h1M146 224.5h1M168 74.5h1M150 219.5h2M163 205.5h2M147 205.5h2M149 201.5h1M160 233.5h2M158 183.5h1M177 193.5h1M173 208.5h1M150 203.5h1M187 217.5h1M174 197.5h1M181 233.5h1M194 199.5h2M200 77.5h2M130 222.5h1M154 212.5h2M154 200.5h2M146 200.5h2M153 190.5h1M150 192.5h2M164 216.5h1M161 77.5h2M134 184.5h1M181 219.5h1M175 222.5h2M168 229.5h2M125 187.5h1M132 205.5h2M159 190.5h1M187 77.5h2M162 217.5h1M169 216.5h2M179 202.5h1M145 211.5h2M152 224.5h1M148 213.5h1M168 237.5h2M174 83.5h2M160 221.5h1M155 221.5h1M164 188.5h1M187 71.5h2M202 80.5h2M153 205.5h1M164 223.5h1M133 224.5h2M160 218.5h1M176 183.5h2M159 208.5h1M183 229.5h2M190 217.5h2M145 226.5h1M169 212.5h2M163 215.5h1M183 213.5h1M192 214.5h1M186 81.5h1M191 78.5h2M129 185.5h2M185 81.5h1M172 217.5h2M134 192.5h1M161 181.5h2M170 220.5h1M172 212.5h1M179 208.5h1M146 218.5h2M145 207.5h1M121 204.5h2M135 204.5h2M173 224.5h2M171 71.5h1M159 216.5h1M116 190.5h1M143 213.5h1M150 217.5h2M168 233.5h1M154 208.5h2M157 202.5h1M186 207.5h2M147 230.5h1M163 228.5h1M172 219.5h2M131 209.5h1M137 227.5h1M171 210.5h1M172 79.5h1M174 198.5h2M205 233.5h2M166 226.5h1M110 188.5h1M170 239.5h2M130 188.5h2M113 175.5h1M162 174.5h1M187 206.5h2M111 208.5h1M147 210.5h2M127 178.5h1M161 191.5h2M159 214.5h2M171 190.5h2M163 237.5h1M153 216.5h1M159 197.5h1M147 197.5h1M178 239.5h2M165 212.5h1M166 212.5h1M168 214.5h1M159 202.5h1M146 215.5h1M110 215.5h2M179 232.5h2M186 74.5h1M164 192.5h1M158 169.5h1M128 211.5h1M157 226.5h1M164 221.5h2M170 73.5h1M152 235.5h2M152 209.5h2M178 217.5h1M142 182.5h1M177 86.5h2M148 220.5h1M174 193.5h1M128 194.5h1M151 192.5h1M134 212.5h1M148 215.5h2M137 207.5h1M165 77.5h1M115 201.5h1M148 187.5h1M133 194.5h1M175 214.5h1M133 217.5h1M171 72.5h1M156 217.5h1M175 68.5h2M145 189.5h1M161 215.5h1M179 80.5h2M119 160.5h2M155 206.5h1M144 205.5h1M195 236.5h2M141 217.5h2M176 76.5h1M165 211.5h2M196 232.5h1M167 226.5h1M163 195.5h2M166 219.5h1M161 200.5h2M181 80.5h2M157 215.5h2M142 199.5h2M160 227.5h1M129 179.5h1M155 199.5h2M179 80.5h1M194 223.5h2M189 211.5h2M183 77.5h1M174 77.5h1M140 203.5h1M162 204.5h2M169 208.5h1M138 216.5h2M150 203.5h1M183 68.5h2M188 214.5h1M151 214.5h1M151 186.5h2M182 77.5h1M195 195.5h1M139 205.5h2M150 213.5h1M160 203.5h2M178 72.5h2M174 81.5h1M157 204.5h2M119 187.5h2M139 182.5h2M134 206.5h1M145 236.5h2M172 224.5h1M133 230.5h1M130 198.5h2M179 82.5h1M155 204.5h2M166 217.5h1M117 228.5h1M177 83.5h2M113 197.5h1M144 229.5h2M129 181.5h1M147 218.5h1M175 211.5h1M200 219.5h1M128 188.5h1M165 217.5h1M155 205.5h2M172 215.5h1M128 214.5h1M175 202.5h1M165 213.5h1M142 222.5h2M162 186.5h1M201 77.5h1M160 207.5h2M148 180.5h1M123 188.5h2M188 188.5h1M195 83.5h1M160 206.5h2M135 199.5h1M133 202.5h2M161 220.5h1M173 178.5h2M157 182.5h1M125 186.5h2M121 188.5h1M119 197.5h1M160 208.5h1M132 178.5h2M152 209.5h2M124 202.5h1M184 73.5h2M171 229.5h1M162 213.5h1M187 80.5h2M191 78.5h2M119 187.5h2M130 193.5h1M175 207.5h1M171 75.5h1M159 209.5h1M158 73.5h1M156 201.5h1M149 210.5h1M143 201.5h2M132 220.5h1M149 213.5h1M171 211.5h2M170 201.5h1M163 187.5h2M152 178.5h1M167 204.5h1M130 230.5h2M180 74.5h1M121 216.5h2M150 204.5h2M163 186.5h1M145 192.5h2M181 213.5h1M163 73.5h1M118 211.5h1M145 208.5h1M126 212.5h2M136 222.5h2M160 215.5h2M156 199.5h2M164 81.5h1M116 211.5h2M127 219.5h1M188 209.5h2M147 206.5h1M163 201.5h1M188 191.5h2M131 224.5h1M153 214.5h1M195 80.5h2M134 217.5h2M192 74.5h1M160 196.5h2M155 208.5h2M201 88.5h1M141 188.5h1M151 202.5h1M136 206.5h1M153 194.5h2M159 206.5h2M114 222.5h2M152 82.5h2M188 216.5h1M187 231.5h2M140 222.5h1M162 221.5h1M180 236.5h2M159 190.5h1M173 215.5h2M157 210.5h1M146 189.5h1M131 235.5h1M140 177.5h2M164 230.5h2M181 200.5h2M163 193.5h1M159 185.5h2M177 82.5h1M162 210.5h1M150 210.5h1M153 213.5h2M144 218.5h1M115 209.5h1M195 239.5h1M154 199.5h2M154 183.5h1M129 181.5h2M127 185.5h1M121 196.5h1M116 183.5h1M196 226.5h2M149 175.5h1M158 209.5h1M127 198.5h1M131 192.5h1M167 197.5h2"/>
<path stroke="#aeb2b2" d="M153 221.5h2M167 79.5h1M165 214.5h2M171 192.5h2M164 78.5h1M134 202.5h1M155 202.5h1M174 189.5h1M124 205.5h1M188 86.5h2M136 202.5h1M190 80.5h2M137 194.5h2M145 218.5h2M183 73.5h2M150 200.5h2M180 217.5h2M174 194.5h2M175 85.5h1M145 219.5h2M130 202.5h2M176 213.5h2M136 200.5h1M166 202.5h2M191 80.5h1M148 209.5h1M136 206.5h2M175 208.5h2M166 197.5h1M144 202.5h1M157 222.5h2M118 189.5h1M162 229.5h2M196 78.5h2M190 83.5h1M135 206.5h2M166 77.5h1M136 183.5h1M181 69.5h2M123 196.5h1M139 226.5h1M159 228.5h1M193 76.5h1M137 203.5h2M140 178.5h2M177 70.5h1M164 78.5h2M151 232.5h2M163 213.5h2M151 199.5h2M170 196.5h2M163 227.5h2M170 209.5h2M116 195.5h1M143 207.5h1M161 212.5h2M149 194.5h2M155 164.5h2M150 178.5h1M123 194.5h1M138 201.5h1M141 197.5h1M129 215.5h1M133 217.5h2M182 217.5h1M134 203.5h1M170 229.5h2M129 192.5h1M167 217.5h2M145 201.5h2M121 198.5h1M174 211.5h1M130 191.5h2M132 188.5h2M152 215.5h1M159 217.5h2M147 214.5h1M126 211.5h1M143 207.5h2M133 229.5h1M153 207.5h1M145 237.5h2M135 176.5h2M168 215.5h2M147 205.5h2M185 81.5h2M142 209.5h1M183 79.5h2M123 180.5h1M145 179.5h1M150 196.5h1M152 225.5h1M126 204.5h2M134 208.5h2M143 216.5h2M173 82.5h2M132 212.5h1M146 231.5h2M140 204.5h1M153 207.5h2M186 194.5h2M150 200.5h1M188 72.5h1M161 208.5h2M152 183.5h2M198 208.5h1M117 201.5h1M166 223.5h2M196 214.5h2M145 210.5h2M169 78.5h1M121 212.5h1M166 192.5h1M186 82.5h1M162 182.5h2M124 221.5h2M190 79.5h1M174 203.5h1M189 66.5h1M193 88.5h2M125 180.5h1M168 200.5h1M166 205.5h1M140 205.5h1M125 206.5h2M157 192.5h1M149 209.5h2M189 78.5h1M151 202.5h2M130 215.5h2M166 200.5h2M151 212.5h2M170 219.5h2M140 178.5h2M170 200.5h1M189 80.5h1M110 194.5h1M183 217.5h2M186 72.5h1M173 75.5h1M134 188.5h2M182 72.5h1M164 198.5h2M157 204.5h1M129 197.5h2M164 197.5h1M165 215.5h1M130 210.5h1M150 182.5h2M180 213.5h1M132 226.5h2M142 188.5h1M170 207.5h1M139 175.5h1M142 186.5h2M148 213.5h1M144 209.5h1M127 203.5h1M129 205.5h1M166 200.5h1M126 198.5h1M134 206.5h2M117 210.5h1M150 217.5h1M137 212.5h1M136 215.5h1M155 222.5h1M188 88.5h1M168 224.5h1M204 71.5h2M158 195.5h1M142 219.5h1M120 188.5h1M136 200.5h2M187 72.5h1M155 208.5h2M134 180.5h1M171 197.5h1M185 85.5h1M168 224.5h2M151 228.5h1M123 200.5h2M146 168.5h2M176 205.5h1M193 80.5h1M135 210.5h2M162 226.5h2M154 219.5h1M174 207.5h1M155 203.5h2M141 223.5h2M172 227.5h1M155 192.5h2M165 190.5h1M149 201.5h1M182 82.5h2M154 196.5h2M152 216.5h2M113 206.5h1M167 229.5h1M153 195.5h1M162 219.5h1M153 190.5h1M155 178.5h2M133 213.5h2M167 202.5h2M134 197.5h1M124 210.5h2M142 176.5h1M156 220.5h1M160 205.5h1M142 212.5h1M187 72.5h1M148 209.5h1M186 78.5h1M152 195.5h2M143 215.5h1M147 185.5h1M166 71.5h1M138 187.5h1M175 81.5h1M140 195.5h1M172 227.5h2M146 224.5h1M131 194.5h1M185 220.5h1M167 221.5h1M167 231.5h2M159 215.5h1M147 205.5h2M153 207.5h1M158 212.5h1M141 225.5h1M164 210.5h1M175 201.5h2M171 204.5h1M152 210.5h2M112 163.5h1M158 225.5h2M119 193.5h1M156 210.5h1M141 226.5h2M134 216.5h2M158 87.5h1M124 196.5h1M116 198.5h1M156 204.5h1M157 196.5h2M152 209.5h1M168 198.5h1M169 185.5h2M181 82.5h2M154 194.5h2M186 208.5h1M148 211.5h2M178 238.5h2M149 181.5h1M162 213.5h1M156 202.5h1M148 192.5h1M149 199.5h2M145 218.5h1M182 203.5h1M153 212.5h1M186 232.5h1M164 211.5h1M156 210.5h1M189 231.5h2M131 203.5h2M160 223.5h1M151 212.5h2M135 177.5h1M182 84.5h1M189 72.5h2M131 219.5h2M150 204.5h2M143 230.5h2M189 233.5h1M201 204.5h1M134 218.5h1M160 190.5h1M163 67.5h1M181 201.5h1M139 210.5h1M141 190.5h2M150 181.5h1M145 210.5h1M153 214.5h2M165 226.5h1M164 202.5h1M132 194.5h2M141 212.5h2M158 214.5h1M161 218.5h1M155 224.5h1M125 212.5h1M172 202.5h1M149 183.5h2M133 196.5h2M195 227.5h1M182 215.5h1M136 197.5h1M185 74.5h2M190 76.5h2M152 230.5h1M179 218.5h1M165 225.5h1M118 181.5h2M134 212.5h2M139 207.5h1M180 204.5h1M142 195.5h1M176 75.5h2M154 215.5h1M152 227.5h1M157 179.5h1M171 199.5h2M151 216.5h2M178 79.5h1M170 209.5h2M131 192.5h2M123 214.5h2M118 193.5h1M185 77.5h1M127 222.5h1M141 213.5h2M152 213.5h1M183 87.5h1M149 207.5h1M157 198.5h2M197 81.5h1M125 220.5h1M152 209.5h2M170 187.5h1M168 190.5h1M147 207.5h1M174 92.5h2M156 220.5h1M153 81.5h1M168 231.5h2M179 223.5h1M183 77.5h1M119 210.5h1M141 204.5h1M116 191.5h1M135 212.5h2M159 204.5h1M132 214.5h1M162 223.5h1M146 217.5h2M140 218.5h1M185 191.5h2M151 233.5h1M143 213.5h1M182 212.5h1M119 205.5h2M116 196.5h1M136 221.5h2M191 91.5h2M154 200.5h1M137 181.5h1M164 210.5h2M145 194.5h2M184 89.5h1M179 85.5h1M126 225.5h2M136 178.5h2M150 224.5h1M180 212.5h2M134 191.5h2M157 205.5h1M166 205.5h1M183 229.5h1M158 211.5h2M162 195.5h1M154 206.5h2M162 83.5h2M156 182.5h2M191 209.5h2M147 190.5h1M146 197.5h2M150 194.5h1M145 231.5h1M140 213.5h1M128 198.5h2M166 235.5h1M151 209.5h1M127 186.5h2M138 210.5h2M169 227.5h2M178 82.5h1M149 206.5h1M201 226.5h1M178 82.5h2M124 202.5h2M138 200.5h2M154 234.5h1M165 216.5h2M141 187.5h1M186 213.5h1M137 194.5h1M132 188.5h1M116 200.5h1M151 218.5h2M178 91.5h2M136 182.5h1M206 70.5h2"/>
<path stroke="#9ea2a2" d="M185 71.5h1M177 204.5h2M156 208.5h1M168 233.5h1M151 191.5h1M193 225.5h2M175 81.5h2M165 191.5h1M165 212.5h2M192 208.5h2M126 201.5h1M136 210.5h1M145 225.5h1M180 195.5h2M162 199.5h2M163 199.5h2M162 79.5h1M128 206.5h1M157 189.5h1M156 212.5h1M149 221.5h2M140 175.5h2M191 74.5h1M144 212.5h1M175 194.5h1M169 204.5h1M120 231.5h2M147 209.5h1M146 186.5h1M115 201.5h2M194 73.5h2M176 80.5h1M143 183.5h1M178 206.5h2M117 210.5h1M158 170.5h1M129 216.5h2M145 203.5h2M200 220.5h2M144 198.5h2M189 82.5h1M128 214.5h2M152 208.5h1M126 201.5h1M116 197.5h1M156 184.5h1M159 216.5h1M141 211.5h1M141 194.5h2M118 187.5h2M170 78.5h2M166 205.5h2M151 212.5h2M155 79.5h1M137 197.5h1M146 197.5h2M160 77.5h2M155 170.5h2M167 214.5h1M141 200.5h1M144 196.5h1M186 84.5h2M146 211.5h1M144 189.5h1M125 201.5h1M153 187.5h1M176 80.5h1M198 87.5h2M128 189.5h2M146 199.5h1M160 193.5h2M168 234.5h1M157 204.5h1M136 205.5h1M184 230.5h1M153 207.5h2M166 211.5h1M143 200.5h2M192 73.5h1M142 197.5h1M154 187.5h1M145 211.5h1M185 203.5h1M140 207.5h2M138 203.5h2M144 189.5h1M135 168.5h1M159 185.5h1M126 203.5h1M179 191.5h1M139 213.5h1M209 209.5h1M160 223.5h2M179 189.5h1M138 213.5h2M178 188.5h2M154 213.5h1M165 209.5h2M141 213.5h2M182 233.5h1M181 84.5h2M165 207.5h1M156 198.5h2M138 207.5h1M180 213.5h2M141 208.5h1M191 220.5h1M192 68.5h2M179 216.5h1M175 81.5h1M180 224.5h1M158 199.5h1M129 230.5h2M152 207.5h1M154 187.5h1M139 212.5h1M173 209.5h2M214 78.5h1M178 231.5h1M154 204.5h1M162 185.5h2M127 198.5h2M135 187.5h1M150 204.5h1M125 187.5h1M168 194.5h2M146 211.5h1M164 214.5h1M182 233.5h2M183 87.5h2M122 205.5h2M194 80.5h2M163 196.5h1M150 203.5h2M156 73.5h1M131 180.5h2M146 213.5h2M168 209.5h1M169 235.5h2M150 221.5h1M176 194.5h1M182 225.5h2M140 222.5h1M122 187.5h2M138 200.5h1M140 202.5h2M182 226.5h1M113 194.5h1M150 190.5h2M149 232.5h1M187 224.5h1M160 199.5h2M142 208.5h1M153 75.5h1M154 224.5h1M166 228.5h1M165 217.5h1M207 217.5h1M142 221.5h1M178 203.5h1M153 238.5h1M153 188.5h2M152 194.5h2M143 198.5h1M145 209.5h1M122 213.5h2M156 213.5h1M157 224.5h2M166 220.5h2M152 202.5h1M139 207.5h1M201 87.5h2M164 206.5h1M147 200.5h1M141 184.5h1M169 76.5h1M138 196.5h2M169 203.5h1M135 218.5h1M155 190.5h1M168 208.5h2M129 202.5h2M180 214.5h1M115 197.5h1M148 200.5h2M162 215.5h2M138 184.5h2M175 190.5h1M147 200.5h1M152 217.5h1M148 231.5h1M167 228.5h2M145 219.5h1M193 207.5h2M150 210.5h2M167 220.5h2M126 179.5h1M145 187.5h1M145 168.5h1M194 208.5h1M137 209.5h1M154 210.5h2M121 209.5h1M194 80.5h2M167 206.5h1M152 204.5h1M161 221.5h2M150 209.5h1M182 225.5h1M164 211.5h1M122 188.5h1M158 204.5h1M143 236.5h2M163 189.5h1M168 82.5h1M138 191.5h1M165 222.5h1M122 202.5h1M146 198.5h2M125 216.5h1M145 220.5h1M174 215.5h1M151 199.5h1M153 183.5h1M167 199.5h2M164 217.5h1M164 199.5h1M122 194.5h1M137 189.5h1M120 200.5h1M173 77.5h1M147 220.5h1M122 210.5h1M163 201.5h2M185 216.5h1M172 207.5h1M158 213.5h2M146 223.5h1M129 209.5h1M184 90.5h1M149 189.5h2M135 182.5h2M152 211.5h1M169 214.5h1M219 218.5h1M176 82.5h1M144 194.5h1M133 200.5h1M167 212.5h1M158 217.5h1M138 206.5h1M121 200.5h2M159 211.5h1M198 197.5h1M145 204.5h2M154 184.5h2M156 222.5h1M140 196.5h2M134 196.5h1M184 76.5h2M181 208.5h2M201 75.5h2M176 74.5h1M147 183.5h1M127 225.5h1M154 224.5h2M162 226.5h1M160 210.5h2M143 215.5h1M196 79.5h2M146 81.5h1M143 226.5h1M155 207.5h1M173 93.5h2M169 212.5h2M172 86.5h1M132 217.5h1M183 73.5h1M134 196.5h1M167 74.5h1M147 204.5h1M140 194.5h1M178 78.5h1M165 190.5h1M149 202.5h1M132 227.5h1M155 207.5h1M195 88.5h2M144 212.5h2M124 210.5h2M176 216.5h1M155 212.5h1M174 217.5h1M155 217.5h1M174 216.5h2M156 217.5h2M176 84.5h1M168 207.5h2M134 175.5h2M158 180.5h1M153 191.5h2M137 172.5h1M161 214.5h2M133 222.5h2M131 168.5h2M147 189.5h1M169 216.5h1M151 206.5h1M136 208.5h2M130 174.5h2M154 217.5h1M164 218.5h1M136 202.5h1M167 228.5h2M144 207.5h2M143 222.5h1M161 218.5h1M172 77.5h1M173 220.5h1M165 200.5h2M145 205.5h2M163 217.5h1M177 219.5h1M169 78.5h1M193 216.5h2M143 214.5h1M147 229.5h1M177 220.5h1M179 79.5h1M174 219.5h1M146 207.5h2M169 217.5h2M176 208.5h1M163 220.5h1M159 200.5h2M182 90.5h2M150 212.5h1M164 206.5h2M151 199.5h2M194 77.5h1M160 213.5h1M141 181.5h1M171 218.5h1M200 77.5h2M139 185.5h2M176 76.5h1M173 70.5h2M186 212.5h1M138 223.5h1M173 74.5h2M158 211.5h2M133 183.5h2M176 219.5h2M181 79.5h1M171 83.5h1M135 216.5h1M119 186.5h2M153 214.5h1M154 203.5h2M161 85.5h2M140 212.5h1M182 223.5h1M111 210.5h2M140 201.5h1M177 234.5h1M166 232.5h1M131 194.5h2M131 221.5h2M169 83.5h2M133 187.5h1M178 239.5h2M137 214.5h2M141 219.5h1M138 213.5h2M173 215.5h2M162 185.5h2M169 213.5h1M147 229.5h2M170 201.5h1M155 210.5h2M175 226.5h1M196 72.5h2M186 223.5h2M139 210.5h2M152 73.5h2M117 198.5h2M132 190.5h2M170 204.5h1M135 213.5h2M153 190.5h1M163 220.5h1M166 220.5h2M152 191.5h1M151 187.5h1"/>
<path stroke="#7e8282" d="M184 76.5h2M116 195.5h2M166 199.5h1M155 196.5h1M170 79.5h1M171 195.5h1M149 197.5h2M158 218.5h1M163 199.5h1M147 184.5h1M161 187.5h2M140 199.5h1M158 180.5h2M152 193.5h2M145 200.5h1M188 199.5h1M134 193.5h1M151 228.5h1M159 191.5h1M121 183.5h1M151 71.5h1M156 218.5h1M183 228.5h2M169 198.5h1M173 219.5h1M122 207.5h1M169 191.5h1M165 191.5h1M130 198.5h2M174 201.5h1M182 208.5h2M131 198.5h1M118 220.5h1M127 210.5h1M176 205.5h1M175 81.5h1M160 223.5h1M123 182.5h1M166 215.5h2M177 210.5h2M123 222.5h2M147 187.5h2M160 210.5h1M140 208.5h1M136 191.5h1M162 205.5h2M174 80.5h1M142 208.5h2M129 207.5h2M152 189.5h1M157 224.5h1M160 193.5h2M159 205.5h1M157 210.5h1M183 235.5h1M138 216.5h1M142 190.5h1M168 190.5h2M193 77.5h1M179 237.5h2M141 200.5h1M148 199.5h2M134 200.5h1M116 214.5h1M144 200.5h2M148 186.5h2M154 193.5h1M171 217.5h1M186 216.5h1M130 206.5h1M178 237.5h1M204 82.5h2M150 202.5h2M148 233.5h2M151 190.5h2M134 203.5h2M157 227.5h1M135 197.5h1M155 194.5h1M166 218.5h1M169 221.5h2M148 191.5h1M165 208.5h1M136 217.5h2M141 177.5h1M132 204.5h2M159 196.5h2M185 225.5h1M186 233.5h1M140 196.5h1M190 215.5h2M178 74.5h2M161 214.5h1M143 233.5h2M182 219.5h1M173 209.5h1M195 225.5h1M139 187.5h1M153 196.5h1M134 199.5h2M133 211.5h2M131 184.5h2M159 199.5h1M151 230.5h1M130 211.5h2M173 85.5h2M144 216.5h1M155 208.5h2M140 212.5h1M164 191.5h1M162 177.5h1M144 183.5h2M128 190.5h2M119 188.5h1M122 198.5h1M170 213.5h2M168 200.5h1M139 218.5h1M171 224.5h1M121 205.5h2M156 201.5h1M179 88.5h1M171 236.5h1M174 78.5h2M150 197.5h1M191 225.5h1M149 218.5h1M126 226.5h2M160 210.5h1M161 213.5h2M163 217.5h2M128 189.5h2M159 209.5h1M171 76.5h2M200 230.5h2M184 208.5h2M169 222.5h2M141 182.5h1M156 215.5h1M137 195.5h1M193 84.5h2M176 204.5h2M140 203.5h1M144 209.5h1M130 192.5h1M178 67.5h1M161 208.5h1M138 220.5h1M143 189.5h2M182 85.5h1M164 82.5h1M155 209.5h1M147 202.5h1M158 201.5h1M172 205.5h2M161 211.5h2M163 225.5h2M133 191.5h2M184 205.5h1M172 83.5h2M162 224.5h1M174 218.5h1M165 190.5h2M125 221.5h2M144 211.5h1M154 226.5h2M139 221.5h2M188 203.5h1M119 184.5h1M155 206.5h1M140 207.5h1M181 193.5h1M142 180.5h2M155 205.5h2M187 210.5h2M157 219.5h1M143 194.5h1M152 211.5h1M143 195.5h1M137 198.5h2M143 197.5h2M132 191.5h1M174 78.5h1M160 210.5h1M183 86.5h2M170 200.5h2M170 210.5h2M199 83.5h1M175 83.5h1M168 218.5h1M144 221.5h1M167 203.5h1M132 203.5h2M184 234.5h2M153 196.5h1M125 192.5h1M139 223.5h2M152 230.5h2M189 220.5h1M145 235.5h1M190 72.5h1M165 216.5h1M140 196.5h1M174 78.5h2M173 215.5h1M152 204.5h1M160 206.5h2M166 199.5h1M147 202.5h2M152 199.5h1M154 216.5h1M164 217.5h1M139 195.5h1M149 220.5h1M183 203.5h1M135 233.5h2M166 177.5h1M174 203.5h1M169 221.5h1M166 201.5h2M154 213.5h1M164 193.5h2M167 206.5h1M151 204.5h2M137 208.5h1M159 162.5h1M177 226.5h1M159 215.5h1M166 210.5h1M181 79.5h1M148 195.5h1M133 177.5h1M166 194.5h1M163 205.5h1M152 186.5h2M143 198.5h1M136 200.5h2M143 209.5h1M164 193.5h1M197 228.5h1M146 210.5h1M153 201.5h1M124 200.5h1M186 233.5h1M111 174.5h1M195 76.5h1M162 208.5h1M179 221.5h1M145 217.5h1M143 187.5h1M146 204.5h1M152 222.5h1M150 201.5h1M189 74.5h1M167 218.5h2M179 233.5h1M176 189.5h1M141 201.5h2M161 65.5h2M180 77.5h2M124 204.5h1M186 224.5h2M165 228.5h2M143 203.5h2M161 213.5h1M210 87.5h1M170 79.5h1M124 194.5h1M116 199.5h2M150 215.5h2M152 207.5h1M191 203.5h1M147 216.5h2M144 218.5h1M177 76.5h2M152 208.5h1M174 86.5h1M120 190.5h2M182 213.5h1M169 78.5h2M147 189.5h2M162 220.5h1M196 206.5h1M163 79.5h1M170 76.5h1M140 178.5h1M179 215.5h1M193 222.5h2M197 221.5h1M134 220.5h1M180 75.5h2M151 226.5h2M202 216.5h2M169 184.5h1M178 201.5h1M189 224.5h1M150 211.5h2M152 205.5h2M181 83.5h2M142 201.5h2M165 205.5h1M164 173.5h1M148 214.5h1M145 194.5h2M143 219.5h1M183 219.5h1M142 176.5h2M151 213.5h1M144 195.5h2M143 212.5h1M137 207.5h1M163 216.5h1M175 211.5h1M179 195.5h2M187 216.5h1M177 230.5h1M152 193.5h1M201 231.5h2M146 201.5h2M165 209.5h1M129 173.5h1M151 228.5h1M171 224.5h2M155 207.5h1M151 200.5h2M135 204.5h1M152 181.5h1M165 213.5h1M120 204.5h1M165 195.5h1M181 79.5h1M189 221.5h1M160 199.5h2M154 194.5h2M170 207.5h1M161 228.5h1M129 195.5h1M129 219.5h1M179 239.5h1M192 74.5h2M154 205.5h2M139 212.5h1M156 213.5h2M154 206.5h1M157 191.5h1M189 75.5h2M148 229.5h1M158 215.5h1M156 207.5h1M164 202.5h2M170 80.5h2M176 84.5h2M134 186.5h1M183 219.5h2M143 203.5h1M152 195.5h2M163 223.5h1M116 201.5h2M168 219.5h2M163 221.5h2M182 82.5h2M132 193.5h1M184 216.5h2M191 77.5h2M137 178.5h2M177 76.5h1M151 184.5h1M144 204.5h1M137 199.5h1M119 200.5h2M171 190.5h2M179 77.5h1M157 229.5h1M192 223.5h2M152 221.5h1M160 75.5h1M179 213.5h1M166 212.5h1M140 184.5h1M173 73.5h1M150 233.5h2M160 195.5h1M181 78.5h1M183 67.5h1M125 183.5h2M160 189.5h2M158 213.5h2M146 207.5h1M174 221.5h1M134 181.5h1M128 198.5h2M150 202.5h1M189 84.5h1M128 183.5h1M144 208.5h2M157 214.5h2M171 208.5h2M175 72.5h1M151 209.5h1M169 197.5h2M157 207.5h2M118 214.5h2M125 195.5h1"/>
<path stroke="#8e9292" d="M118 208.5h1M177 224.5h1M146 191.5h1M182 212.5h1M182 205.5h1M190 215.5h2M173 190.5h1M123 198.5h1M166 216.5h1M157 196.5h1M174 229.5h1M152 225.5h1M148 186.5h1M143 212.5h1M143 203.5h2M116 194.5h2M144 194.5h1M127 183.5h2M160 216.5h1M137 225.5h2M175 77.5h2M121 211.5h1M194 222.5h2M182 195.5h1M202 73.5h1M174 206.5h2M139 192.5h2M134 198.5h1M142 200.5h2M127 224.5h2M174 221.5h2M173 85.5h2M124 198.5h1M120 211.5h2M136 201.5h1M169 182.5h1M124 174.5h2M151 201.5h1M149 221.5h1M163 226.5h1M131 198.5h2M151 189.5h1M174 226.5h2M130 231.5h2M137 221.5h1M186 226.5h2M159 217.5h2M146 213.5h2M202 84.5h2M149 178.5h2M140 199.5h2M134 198.5h1M151 210.5h2M146 177.5h2M162 215.5h2M165 212.5h2M155 230.5h2M178 220.5h1M140 212.5h2M160 189.5h1M161 209.5h2M142 201.5h2M150 192.5h1M198 76.5h1M170 233.5h1M139 192.5h1M139 202.5h1M129 197.5h1M133 187.5h2M197 76.5h1M182 229.5h1M168 235.5h2M122 224.5h2M171 211.5h2M167 234.5h2M115 183.5h2M143 208.5h2M191 77.5h1M168 221.5h1M141 194.5h1M150 211.5h2M153 78.5h1M136 218.5h1M150 174.5h2M171 216.5h2M156 195.5h1M169 202.5h2M150 207.5h1M135 230.5h2M137 193.5h2M129 205.5h1M138 170.5h1M161 213.5h1M132 235.5h1M144 192.5h2M131 183.5h2M164 214.5h2M182 213.5h1M155 206.5h1M125 207.5h1M166 203.5h1M143 204.5h1M167 217.5h2M131 201.5h2M185 78.5h1M163 226.5h2M183 237.5h1M205 68.5h1M170 213.5h1M152 176.5h1M168 202.5h2M187 217.5h2M123 218.5h1M133 202.5h1M173 200.5h1M147 194.5h2M156 214.5h1M145 201.5h1M167 191.5h1M178 205.5h1M166 234.5h2M165 225.5h1M155 221.5h1M146 184.5h2M148 205.5h1M194 215.5h2M183 79.5h1M159 90.5h1M135 214.5h1M185 82.5h1M134 210.5h2M159 208.5h1M193 80.5h1M169 181.5h2M194 210.5h2M184 75.5h2M133 186.5h2M150 177.5h2M187 229.5h1M200 77.5h1M144 187.5h2M175 77.5h1M163 227.5h2M146 221.5h2M146 179.5h2M150 170.5h2M160 222.5h1M181 77.5h1M142 188.5h2M135 198.5h2M154 234.5h1M153 68.5h2M159 205.5h2M191 206.5h2M161 181.5h2M187 80.5h1M132 195.5h2M145 193.5h1M165 217.5h2M170 70.5h1M187 215.5h2M149 228.5h1M137 206.5h1M191 231.5h2M157 209.5h1M203 77.5h1M151 218.5h2M140 191.5h1M149 193.5h1M165 190.5h2M149 209.5h2M164 209.5h1M175 233.5h2M182 206.5h1M200 206.5h1M168 204.5h1M136 204.5h2M186 88.5h2M162 194.5h2M180 76.5h1M124 195.5h2M162 197.5h1M145 198.5h1M141 236.5h1M171 222.5h1M179 81.5h1M192 225.5h1M190 230.5h1M182 215.5h1M160 221.5h1M199 235.5h1M155 220.5h1M141 199.5h1M189 86.5h1M153 214.5h2M165 212.5h1M169 205.5h2M147 209.5h1M173 76.5h1M148 207.5h2M120 189.5h1M170 236.5h2M148 212.5h1M149 237.5h2M131 204.5h2M124 218.5h1M167 198.5h1M148 198.5h1M152 201.5h2M179 213.5h2M132 211.5h2M161 231.5h1M163 210.5h2M125 216.5h1M149 80.5h1M146 199.5h1M186 202.5h1M158 213.5h1M146 179.5h2M160 207.5h1M164 89.5h1M155 214.5h1M171 79.5h2M151 204.5h1M141 227.5h1M148 179.5h2M146 200.5h1M191 217.5h1M169 79.5h1M143 203.5h2M185 202.5h2M167 210.5h1M197 84.5h2M130 198.5h1M161 218.5h1M119 211.5h1M151 219.5h1M176 80.5h1M147 186.5h1M142 182.5h1M165 194.5h2M137 219.5h2M144 228.5h2M152 219.5h2M127 191.5h2M142 176.5h1M181 218.5h1M127 188.5h1M134 194.5h1M134 203.5h1M143 199.5h2M132 226.5h1M151 165.5h2M176 206.5h1M156 211.5h1M189 86.5h1M180 222.5h1M172 204.5h1M149 209.5h2M145 190.5h1M135 194.5h2M145 200.5h2M155 186.5h2M165 227.5h1M160 206.5h1M146 212.5h2M133 167.5h1M126 208.5h1M152 204.5h2M130 197.5h2M171 206.5h1M180 228.5h1M154 179.5h2M120 199.5h1M160 194.5h1M169 81.5h2M138 199.5h2M170 196.5h1M173 77.5h1M136 195.5h2M122 193.5h2M180 228.5h1M153 230.5h2M177 236.5h2M161 75.5h2M167 77.5h2M160 198.5h2M133 196.5h1M131 196.5h1M182 234.5h1M143 203.5h1M160 207.5h2M122 195.5h1M142 231.5h2M112 176.5h2M172 227.5h1M118 223.5h1M168 79.5h1M172 72.5h2M116 228.5h1M161 232.5h1M170 89.5h2M175 232.5h1M148 201.5h1M170 80.5h2M137 189.5h1M120 189.5h1M133 213.5h2M154 213.5h1M146 210.5h1M180 77.5h2M137 191.5h1M147 212.5h2M175 225.5h1M148 211.5h2M158 84.5h2M144 210.5h1M147 211.5h2M124 190.5h1M137 226.5h1M117 190.5h2M148 185.5h2M194 196.5h1M179 224.5h1M122 226.5h1M122 212.5h1M151 190.5h1M154 214.5h1M177 239.5h1M138 230.5h2M132 177.5h1M188 80.5h2M175 199.5h1M170 223.5h1M153 206.5h1M174 220.5h1M134 203.5h1M168 207.5h2M186 193.5h1M154 182.5h2M142 198.5h1M140 177.5h2M155 218.5h2M181 85.5h2M187 218.5h2M195 79.5h1M203 79.5h2M177 220.5h1M132 192.5h2M152 218.5h2M118 172.5h1M181 232.5h2M144 207.5h1M157 220.5h2M170 82.5h1M177 202.5h1M161 213.5h2M161 238.5h1M137 205.5h2M155 212.5h1M128 219.5h2M173 178.5h1M136 185.5h1M121 180.5h1M146 188.5h1M134 211.5h1M171 233.5h1M172 200.5h2M166 74.5h1M142 207.5h2M123 224.5h1M158 218.5h1M166 73.5h2M158 187.5h1M187 72.5h1M165 220.5h2M169 223.5h1M115 199.5h1M179 82.5h1M122 186.5h1M143 179.5h1M164 214.5h2M174 77.5h2M137 209.5h1M162 234.5h2M171 80.5h1M135 234.5h1M126 236.5h1M175 220.5h1M162 170.5h1"/>
</g>
<line x1="71.8" y1="270" x2="80.7" y2="274.7" stroke="#9a9a9a" stroke-width="0.8"/>
<line x1="92.2" y1="279.8" x2="99.8" y2="283.6" stroke="#9a9a9a" stroke-width="0.8"/>
<line x1="122.7" y1="296.3" x2="127.8" y2="300.2" stroke="#9a9a9a" stroke-width="0.8"/>
<line x1="214" y1="201" x2="207.6" y2="214" stroke="#9a9a9a" stroke-width="0.8"/>
<line x1="190" y1="255" x2="188" y2="262" stroke="#9a9a9a" stroke-width="0.8"/>
<line x1="186.1" y1="52" x2="134.4" y2="261.5" stroke="#e03636" stroke-width="1.2" stroke-dasharray="4.2 3"/>
<g filter="url(#sb)"><ellipse transform="translate(177.2 79) rotate(-2)" rx="13.6" ry="6.2" fill="#44c8d2"/><ellipse transform="translate(178 78.9) rotate(-1)" rx="11.8" ry="5.6" fill="#0e9a96"/><ellipse transform="translate(179 79) rotate(0)" rx="9.4" ry="4.6" fill="#36bc36"/><ellipse transform="translate(179.3 79) rotate(0)" rx="6" ry="3" fill="#f4f400"/><ellipse transform="translate(179.3 79.2) rotate(0)" rx="4.3" ry="2" fill="#dc1010"/><path stroke="#4ccfdc" stroke-width="1" d="M178 73.5h1M180 73.5h1M182 72.5h1M176 85.5h1M166 75.5h1M184 84.5h1M186 85.5h1M173 73.5h1M173 85.5h1M167 85.5h1M193 79.5h1M170 84.5h1M160 79.5h1M164 78.5h1M174 72.5h1M166 75.5h1M163 81.5h1M191 79.5h1M183 84.5h1M175 73.5h1M191 77.5h1M190 79.5h1M193 80.5h1M177 84.5h1M165 75.5h1M162 75.5h1M174 73.5h1M167 84.5h1M177 85.5h1M181 86.5h1M184 73.5h1M182 73.5h1M175 73.5h1M189 76.5h1M187 82.5h1M191 80.5h1M189 75.5h1M178 73.5h1M177 72.5h1M178 72.5h1M168 83.5h1M191 79.5h1M192 78.5h1M178 85.5h1M164 84.5h1M168 75.5h1M191 75.5h1M168 72.5h1M163 81.5h1M172 84.5h1M165 78.5h1M188 75.5h1M164 73.5h1M175 71.5h1M188 84.5h1M164 79.5h1M189 74.5h1M180 86.5h1M178 85.5h1M195 78.5h1M165 76.5h1M166 82.5h1M166 83.5h1M177 71.5h1M176 85.5h1M169 73.5h1M174 84.5h1M169 84.5h1M165 74.5h1M191 76.5h1M190 79.5h1M166 73.5h1M184 72.5h1M190 77.5h1M168 83.5h1M184 72.5h1M189 84.5h1M190 77.5h1M164 78.5h1M180 72.5h1M164 78.5h1M163 77.5h1M185 84.5h1M187 83.5h1M175 72.5h1M170 83.5h1M190 75.5h1M187 72.5h1M164 79.5h1M190 79.5h1M187 84.5h1M189 82.5h1M180 72.5h1M165 76.5h1M164 78.5h1M189 75.5h1M191 77.5h1M185 84.5h1M177 85.5h1M163 77.5h1M173 72.5h1M170 72.5h1M188 76.5h1M174 85.5h1M187 82.5h1M168 74.5h1M162 77.5h1"/></g><g filter="url(#bl)"><ellipse transform="translate(151.4 205.4) rotate(24)" rx="19.8" ry="12.6" fill="#44c8d4"/><ellipse transform="translate(151.5 204.6) rotate(22)" rx="18.8" ry="11.6" fill="#12a49a"/><ellipse transform="translate(151.8 203) rotate(18)" rx="14.4" ry="9.4" fill="#3ec03e"/><ellipse transform="translate(152.1 202.2) rotate(15)" rx="10.3" ry="6.3" fill="#f2f200"/><path stroke="#44c8d4" stroke-width="1" d="M155 189.5h1M141 192.5h1M166 196.5h1M132 199.5h1M132 202.5h1M147 192.5h1M156 194.5h1M161 196.5h1M163 198.5h1M154 191.5h1M135 210.5h1M163 196.5h1M140 192.5h1M136 212.5h1M166 201.5h1M169 206.5h1M165 201.5h1M131 194.5h1M128 197.5h1M135 195.5h1M158 219.5h1M131 201.5h1M131 198.5h1M132 203.5h1M161 196.5h1M158 222.5h1M133 195.5h1M170 206.5h1M152 193.5h1M143 190.5h1M130 195.5h1M169 203.5h1M142 217.5h1M145 217.5h1M139 190.5h1M129 206.5h1M141 216.5h1M168 215.5h1M157 220.5h1M153 192.5h1M169 209.5h1M166 218.5h1M131 199.5h1M156 219.5h1M132 200.5h1M156 219.5h1M174 209.5h1M141 190.5h1M163 218.5h1M154 219.5h1M168 217.5h1M143 215.5h1M135 208.5h1M127 199.5h1M168 215.5h1M158 193.5h1M163 198.5h1M147 190.5h1M159 221.5h1M156 221.5h1M153 191.5h1M164 199.5h1M136 193.5h1M144 217.5h1M172 213.5h1M136 210.5h1M152 219.5h1M145 218.5h1M133 205.5h1M147 190.5h1M172 208.5h1M133 203.5h1M170 202.5h1M171 219.5h1M151 190.5h1M130 205.5h1M159 195.5h1M159 224.5h1M166 200.5h1M167 202.5h1M140 192.5h1M153 191.5h1M154 191.5h1M160 221.5h1M146 192.5h1M149 221.5h1M150 192.5h1M133 203.5h1M151 219.5h1M140 212.5h1M136 193.5h1M139 192.5h1M129 198.5h1M160 194.5h1M151 191.5h1M161 195.5h1M146 189.5h1M142 215.5h1M164 219.5h1M140 214.5h1M159 219.5h1M159 193.5h1M154 193.5h1M163 198.5h1M153 222.5h1M132 192.5h1M170 212.5h1M161 192.5h1M143 188.5h1M153 220.5h1M132 200.5h1M145 187.5h1M133 195.5h1M156 192.5h1M169 208.5h1M163 219.5h1M152 218.5h1M175 210.5h1M130 191.5h1M149 218.5h1M155 221.5h1M167 217.5h1M144 215.5h1M136 194.5h1M168 202.5h1M160 195.5h1M171 209.5h1M132 189.5h1M128 203.5h1M151 192.5h1M173 217.5h1M134 212.5h1M128 197.5h1M130 198.5h1M141 214.5h1M127 203.5h1M157 222.5h1M143 189.5h1M173 213.5h1M167 201.5h1M167 221.5h1M167 198.5h1M129 198.5h1M168 207.5h1M136 195.5h1M160 221.5h1M154 219.5h1M143 215.5h1M129 198.5h1M168 214.5h1M147 217.5h1M159 195.5h1M142 215.5h1M135 208.5h1"/></g><g filter="url(#sb)"><ellipse transform="translate(150.7 200.6) rotate(10)" rx="3.9" ry="2.6" fill="#e21616"/></g>
<line x1="179.3" y1="56" x2="179.3" y2="267" stroke="#3434c4" stroke-width="1.1" stroke-dasharray="4.5 2.6" stroke-dashoffset="4.1"/>
<text transform="matrix(1 0 0 1.04 0 -2.5)" x="140.6" y="63.5" font-size="12" fill="#222270" stroke="#222270" font-family="Liberation Sans, sans-serif">AlN</text>
<text transform="matrix(1 0 0 1.04 0 -7.2)" x="72.5" y="179.4" font-size="12" fill="#222270" stroke="#222270" font-family="Liberation Sans, sans-serif">step-QWs</text>
<text transform="matrix(1 0 0 1.04 0 -9.9)" x="108.2" y="247.1" font-size="12" fill="#cc2a3c" stroke="#cc2a3c" font-family="Liberation Sans, sans-serif">R= </text><path transform="matrix(1 0 0 1.04 0 -9.9) translate(123.85 247.10) scale(0.00600 -0.00600)" d="M515 0L515 1237L197 1010L197 1180L530 1409L696 1409L696 0Z" fill="#cc2a3c" stroke="#cc2a3c" stroke-width="0.35" vector-effect="non-scaling-stroke"/>
<text transform="matrix(1 0 0 1.04 0 -10.5)" x="183.2" y="262.2" font-size="12" fill="#3434c8" stroke="#3434c8" font-family="Liberation Sans, sans-serif">R=0</text>
<rect x="55" y="5" width="178" height="304.2" fill="none" stroke="#000" stroke-width="2"/>
<path d="M55 275.9h3.2M55 242h2.2M55 208h3.2M55 174.1h2.2M55 140.1h3.2M55 106.2h2.2M55 72.2h3.2M55 38.2h2.2M54.7 309.2v-3.3M69.6 309.2v-2M84.5 309.2v-3.3M99.5 309.2v-2M114.4 309.2v-3.3M129.3 309.2v-2M144.2 309.2v-3.3M159.2 309.2v-2M174.1 309.2v-3.3M189 309.2v-2M203.9 309.2v-3.3M218.9 309.2v-2M233.8 309.2v-3.3" stroke="#000" stroke-width="1.4" fill="none"/>
<text transform="matrix(1 0 0 1.04 0 -11.2)" x="51" y="278.9" font-size="8.3" text-anchor="end" fill="#262626" stroke="#262626" style="stroke-width:0.15px" font-family="Liberation Sans, sans-serif">5900</text>
<text transform="matrix(1 0 0 1.04 0 -8.4)" x="51" y="211" font-size="8.3" text-anchor="end" fill="#262626" stroke="#262626" style="stroke-width:0.15px" font-family="Liberation Sans, sans-serif">6000</text>
<text transform="matrix(1 0 0 1.04 0 -5.7)" x="51" y="143.1" font-size="8.3" text-anchor="end" fill="#262626" stroke="#262626" style="stroke-width:0.15px" font-family="Liberation Sans, sans-serif">6 00</text><path transform="matrix(1 0 0 1.04 0 -5.7) translate(37.15 143.10) scale(0.00428 -0.00428)" d="M515 0L515 1237L197 1010L197 1180L530 1409L696 1409L696 0Z" fill="#262626" stroke="#262626" stroke-width="0.15" vector-effect="non-scaling-stroke"/>
<text transform="matrix(1 0 0 1.04 0 -3)" x="51" y="75.2" font-size="8.3" text-anchor="end" fill="#262626" stroke="#262626" style="stroke-width:0.15px" font-family="Liberation Sans, sans-serif">6200</text>
<text transform="matrix(1 0 0 1.04 0 -0.3)" x="51" y="7.3" font-size="8.3" text-anchor="end" fill="#262626" stroke="#262626" style="stroke-width:0.15px" font-family="Liberation Sans, sans-serif">6300</text>
<text transform="matrix(1 0 0 1.04 0 -12.8)" x="54.7" y="319.9" font-size="8.3" text-anchor="middle" fill="#262626" stroke="#262626" style="stroke-width:0.15px" font-family="Liberation Sans, sans-serif">2650</text>
<text transform="matrix(1 0 0 1.04 0 -12.8)" x="84.5" y="319.9" font-size="8.3" text-anchor="middle" fill="#262626" stroke="#262626" style="stroke-width:0.15px" font-family="Liberation Sans, sans-serif">2700</text>
<text transform="matrix(1 0 0 1.04 0 -12.8)" x="114.4" y="319.9" font-size="8.3" text-anchor="middle" fill="#262626" stroke="#262626" style="stroke-width:0.15px" font-family="Liberation Sans, sans-serif">2750</text>
<text transform="matrix(1 0 0 1.04 0 -12.8)" x="144.2" y="319.9" font-size="8.3" text-anchor="middle" fill="#262626" stroke="#262626" style="stroke-width:0.15px" font-family="Liberation Sans, sans-serif">2800</text>
<text transform="matrix(1 0 0 1.04 0 -12.8)" x="174.1" y="319.9" font-size="8.3" text-anchor="middle" fill="#262626" stroke="#262626" style="stroke-width:0.15px" font-family="Liberation Sans, sans-serif">2850</text>
<text transform="matrix(1 0 0 1.04 0 -12.8)" x="203.9" y="319.9" font-size="8.3" text-anchor="middle" fill="#262626" stroke="#262626" style="stroke-width:0.15px" font-family="Liberation Sans, sans-serif">2900</text>
<text transform="matrix(1 0 0 1.04 0 -12.8)" x="233.8" y="319.9" font-size="8.3" text-anchor="middle" fill="#262626" stroke="#262626" style="stroke-width:0.15px" font-family="Liberation Sans, sans-serif">2950</text>
<text transform="matrix(1 0 0 1.04 0 -14)" x="107" y="349.2" font-size="12" fill="#2a2a2a" stroke="#2a2a2a" style="stroke-width:0.2px" font-family="Liberation Sans, sans-serif">Q<tspan font-size="6.5" dy="3.9" dx="0.3">x</tspan><tspan dy="-3.9" dx="0.7">* 0000(rlu)</tspan></text><path transform="matrix(1 0 0 1.04 0 -14) translate(125.25 349.20) scale(0.00600 -0.00600)" d="M515 0L515 1237L197 1010L197 1180L530 1409L696 1409L696 0Z" fill="#2a2a2a" stroke="#2a2a2a" stroke-width="0.2" vector-effect="non-scaling-stroke"/>
<text transform="translate(13.3 204) rotate(-90)" font-size="12" fill="#2a2a2a" stroke="#2a2a2a" style="stroke-width:0.2px" font-family="Liberation Sans, sans-serif">Q<tspan font-size="6.5" dy="3.9" dx="0.3">z</tspan><tspan dy="-3.9" dx="0.7">* 0000(rlu)</tspan></text><path transform="translate(13.3 204) rotate(-90) translate(18.25 0.00) scale(0.00612 -0.00612)" d="M515 0L515 1237L197 1010L197 1180L530 1409L696 1409L696 0Z" fill="#2a2a2a" stroke="#2a2a2a" stroke-width="0.2" vector-effect="non-scaling-stroke"/>
<text transform="translate(0.2 22.6) scale(0.93 1)" font-size="17.5" fill="#111" stroke="#111" font-family="Liberation Sans, sans-serif">(a)</text>
<path d="M322.1 213 322.5 201.8 322.9 213 323.4 207.6 323.8 213 324.2 204 324.6 212.8 325 205.8 325.5 213 325.9 202.5 326.3 213 326.7 205.7 327.1 213 327.6 207 328 210 328.4 202.2 328.8 213 329.2 203.6 329.7 213 330.1 206.4 330.5 213 330.9 205.8 331.3 213 331.8 201.8 332.2 211.5 332.6 206 333 212.9 333.4 205.9 333.9 213 334.3 204.9 334.7 213 335.1 201.9 335.5 213 336 204.4 336.4 213 336.8 206.3 337.2 213 337.6 205.2 338.1 213 338.5 203.8 338.9 211.6 339.3 205.1 339.7 213 340.2 202.5 340.6 213 341 203.7 341.4 213 341.8 202.3 342.3 211.2 342.7 203.3 343.1 213 343.5 205.2 343.9 213 344.4 205.4 344.8 213 345.2 210.3 345.6 213 346 203.3 346.5 213 346.9 205.5 347.3 213 347.7 205.1 348.1 213 348.6 206.5 349 211.3 349.4 202 349.8 212 350.2 205.5 350.7 213 351.1 205.3 351.5 213 351.9 203.8 352.3 213 352.8 205.3 353.2 213 353.6 205.9 354 213 354.4 204.4 354.9 213 355.3 206.1 355.7 213 356.1 205.1 356.5 213 357 206.1 357.4 213 357.8 206.2 358.2 213 358.6 203.9 359.1 213 359.5 203.5 359.9 213 360.3 206.3 360.7 212.5 361.2 211.7 361.6 210.6 362 208.5 362.4 206.5 362.8 203.9 363.3 201.3 363.7 202.1 364.1 203.7 364.5 206.1 364.9 208.4 365.4 210.6 365.8 211.9 366.2 204.4 366.6 213 367 205 367.5 213 367.9 206.4 368.3 209 368.7 202.7 369.1 213 369.6 204.5 370 213 370.4 202.2 370.8 213 371.2 202.8 371.7 213 372.1 205.3 372.5 213 372.9 204.2 373.3 211.2 373.8 205 374.2 211.2 374.6 203.4 375 213 375.4 209.1 375.9 213 376.3 205.6 376.7 210 377.1 205.8 377.5 213 378 206.2 378.4 210.5 378.8 204.9 379.2 213 379.6 206.1 380.1 211.8 380.5 202.1 380.9 213 381.3 205.1 381.7 213 382.2 204.8 382.6 213 383 205.6 383.4 209.7 383.8 203.7 384.3 212.8 384.7 202.6 385.1 213 385.5 203.7 385.9 213 386.4 204.1 386.8 213 387.2 205.6 387.6 213 388 204.3 388.5 211.5 388.9 210 389.3 207.1 389.7 203.5 390.1 200.8 390.6 198.3 391 198.6 391.4 200.8 391.8 203 392.2 206.7 392.7 210 393.1 211.8 393.5 213 393.9 202.2 394.3 213 394.8 203.7 395.2 213 395.6 204.2 396 213 396.4 205.7 396.9 210 397.3 206.2 397.7 211.8 398.1 206.4 398.5 213 399 202.1 399.4 213 399.8 204.4 400.2 213 400.6 206.2 401.1 211.2 401.5 204.4 401.9 213 402.3 205.2 402.7 212.3 403.2 206.5 403.6 209.4 404 202.9 404.4 213 404.8 205.7 405.3 213 405.7 209.6 406.1 211.8 406.5 204.2 406.9 209.2 407.4 204.9 407.8 213 408.2 203.8 408.6 213 409 208.6 409.5 209.6 409.9 202.3 410.3 213 410.7 205.5 411.1 213 411.6 202 412 213 412.4 204.8 412.8 213 413.2 202.7 413.7 213 414.1 202.1 414.5 213 414.9 203.7 415.3 211.4 415.8 209.6 416.2 206.8 416.6 203.5 417 199.7 417.4 196.5 417.9 195.5 418.3 197.4 418.7 200.6 419.1 204.4 419.5 207.5 420 210.6 420.4 211.3 420.8 205.9 421.2 210.7 421.6 203.4 422.1 210.5 422.5 205.6 422.9 213 423.3 202.2 423.7 213 424.2 204.3 424.6 210.3 425 203.3 425.4 213 425.8 201.9 426.3 213 426.7 206.5 427.1 209.7 427.5 205.5 427.9 213 428.4 206.6 428.8 213 429.2 202.2 429.6 210.5 430 205.7 430.5 213 430.9 202.5 431.3 210.3 431.7 204.6 432.1 213 432.6 204.1 433 213 433.4 204.5 433.8 212.2 434.2 205.4 434.7 212.2 435.1 204.8 435.5 213 435.9 205.7 436.3 213 436.8 203.4 437.2 210.4 437.6 208.6 438 213 438.4 205.5 438.9 213 439.3 202.8 439.7 213 440.1 205.4 440.5 213 441 205.4 441.4 212.8 441.8 206.2 442.2 210.6 442.6 206.9 443.1 203.3 443.5 198.4 443.9 193.8 444.3 191 444.7 190.1 445.2 191.9 445.6 195.3 446 199.9 446.4 204.2 446.8 207.8 447.3 210.3 447.7 202.8 448.1 212.4 448.5 202.2 448.9 213 449.4 203.5 449.8 213 450.2 204.6 450.6 213 451 203.7 451.5 212.2 451.9 204.5 452.3 213 452.7 204.9 453.1 213 453.6 204 454 213 454.4 204.9 454.8 213 455.2 203.9 455.7 213 456.1 205.2 456.5 212.3 456.9 202.6 457.3 213 457.8 201.9 458.2 209.6 458.6 209.6 459 210.4 459.4 205.6 459.9 213 460.3 208.1 460.7 209.2 461.1 203.2 461.5 213 462 203.3 462.4 213 462.8 204 463.2 213 463.6 204.6 464.1 213 464.5 205.5 464.9 209.9 465.3 204.4 465.7 211.8 466.2 205.2 466.6 213 467 205.1 467.4 213 467.8 204.3 468.3 213 468.7 203.2 469.1 212.4 469.5 211.4 469.9 209.4 470.4 206.7 470.8 202.1 471.2 196.3 471.6 191.5 472 187.8 472.5 186.7 472.9 188.7 473.3 192.7 473.7 198.2 474.1 203.3 474.6 207.5 475 209.7 475.4 203.7 475.8 212.3 476.2 204.6 476.7 213 477.1 204.1 477.5 213 477.9 203.6 478.3 212.6 478.8 202.9 479.2 213 479.6 207.4 480 213 480.4 204.6 480.9 213 481.3 206.4 481.7 212.1 482.1 205.1 482.5 213 483 204.1 483.4 213 483.8 204.5 484.2 213 484.6 205.5 485.1 213 485.5 207.6 485.9 213 486.3 203.9 486.7 213 487.2 203.5 487.6 213 488 202.4 488.4 213 488.8 205.5 489.3 213 489.7 203.3 490.1 213 490.5 203.1 490.9 213 491.4 205.2 491.8 211.2 492.2 206.4 492.6 209.7 493 202.5 493.5 212 493.9 208.8 494.3 209.6 494.7 205.9 495.1 213 495.6 202.1 496 213 496.4 204.3 496.8 211.9 497.2 209.8 497.7 207.2 498.1 203.7 498.5 197.9 498.9 193.7 499.3 189.1 499.8 188 500.2 189.3 500.6 192.2 501 197.9 501.4 201.9 501.9 206.2 502.3 210 502.7 211.5 503.1 205.3 503.5 209.1 504 209.7 504.4 213 504.8 202.8 505.2 213 505.6 201.9 506.1 212 506.5 207.1 506.9 213 507.3 205.4 507.7 213 508.2 204.2 508.6 213 509 203.3 509.4 213 509.8 203.5 510.3 213 510.7 202.8 511.1 213 511.5 204.8 511.9 213 512.4 202.7 512.8 209.2 513.2 203 513.6 213 514 205.1 514.5 210.3 514.9 202.5 515.3 213 515.7 203.2 516 213 517 208.8 518 205 519 207.9 520 210 521 211 522 205.3 523 201 524.7 195.6 526.4 190.5 527.6 189.3 528.9 186.3 530.1 188.4 531.4 190 533.1 185 534.8 179.5 536.1 176.3 537.4 173.6 539.5 165.2 541.6 157 542.8 150.5 544 144 545.3 137.2 546.6 131 548 122 550 115 552.2 106 553.6 97 554.7 89 555.2 110 555.6 130 556.5 145 558 155 559 162.3 560 168 561.1 171.1 562.3 174.8 563.3 175.2 564.3 175.6 565.1 175.8 566 177.5 567.5 174.8 569 179.5 570.4 176.3 571.2 178.3 572 180.8 573 178.6 574 178 575 183.5 576 182 577 179 578 181 579 182.5 580 180.9 581 178 582.5 181.5 584 188.7 585.5 196.5 587 198 588 203 589.2 195.5 590.1 197.3 591 197.8 592.5 201.9 594 205.5 595 212.7 596 204 597 212.7 598 206 599 212.7 600 203.5 601 212.7 602 203 603 208 604 199 605.5 193 606.6 189.1 607.7 187.1 609 179.6 610.4 173.7 611.5 166.8 612.5 160.3 613.5 153.5 614.4 146.8 617.1 120 618.3 100 618.9 74 619.6 100 620.6 122 621.5 134.4 622.4 146.8 623.3 154.3 624.3 160.3 625.4 166.5 626.5 173.7 627.9 179.5 629.2 187.1 630.5 193.1 631.8 197.9 632.9 200.1 634 203.2 635 207 636 209.3 637 210 637.1 210.9 637.6 205.4 638 213 638.4 202 638.8 213 639.2 205.8 639.7 209.6 640.1 205.7 640.5 213 640.9 208.4 641.3 213 641.8 203 642.2 213 642.6 204.1 643 213 643.4 204 643.9 213 644.3 205.3 644.7 211.9 645.1 202.5 645.5 213 646 202.8 646.4 213 646.8 203.4 647.2 209.5 647.6 202.5 648.1 213 648.5 202 648.9 213 649.3 202.8 649.7 211.2 650.2 202.3 650.6 211.4 651 204.2 651.4 212.4 651.8 208.1 652.3 213 652.7 205.8 653.1 213 653.5 204.8 653.9 212.8 654.4 205.6 654.8 213 655.2 204.4 655.6 213 656 202.2 656.5 213 656.9 204.4 657.3 213 657.7 204.6 658.1 213 658.6 204.3 659 213 659.4 202.8 659.8 213 660.2 206.1 660.7 213 661.1 204.3 661.5 209.4 661.9 202 662.3 213 662.8 204.9 663.2 213 663.6 206.3 664 209.5 664.4 203.3 664.9 213 665.3 203.4 665.7 211.4 666.1 202.4 666.5 211.6 667 203.1 667.4 210.3 667.8 203.6 668.2 213 668.6 205.5 669.1 213 669.5 204.7 669.9 213 670.3 204 670.7 213 671.2 205.5 671.6 213 672 205 672.4 210.1 672.8 203.8 673.3 213 673.7 205.6 674.1 213 674.5 206.1 674.9 213" fill="none" stroke="#000" stroke-width="1.5" stroke-linejoin="round"/>
<path d="M321.9 271.5 322.2 274.1 322.6 271.8 322.9 273.7 323.2 271.5 323.5 273.1 323.9 271.6 324.2 273.3 324.5 271.6 324.9 274.2 325.2 271.5 325.5 273.3 325.9 271.6 326.2 274.1 326.5 271.5 326.8 273.5 327.2 271.8 327.5 273.3 327.8 271.8 328.2 272.9 328.5 271.4 328.8 273.2 329.2 271.8 329.5 273.6 329.8 271.5 330.1 273.1 330.5 271.3 330.8 273.1 331.1 271.2 331.5 273.1 331.8 271 332.1 273.3 332.5 270.9 332.8 272.9 333.1 270.2 333.4 272.6 333.8 269.8 334.1 271.2 334.4 268.1 334.8 269.8 335.1 265.5 335.4 260.9 335.8 254 336.1 242.9 336.4 236 336.4 236 336.7 244.3 337.1 255 337.4 261.5 337.7 265.1 338.1 270.7 338.4 268.6 338.7 270.7 339.1 268.9 339.4 271.4 339.7 269.6 340 272.4 340.4 269.8 340.7 272.6 341 270 341.4 272.6 341.7 270.3 342 271.7 342.4 270.3 342.7 272.3 343 270.8 343.3 273.1 343.7 270.9 344 272.9 344.3 270.6 344.7 272.6 345 270.8 345.3 273 345.7 270.7 346 272.9 346.3 270.4 346.6 271.9 347 270.7 347.3 272.5 347.6 270.5 348 272.7 348.3 270.6 348.6 272.7 349 270.7 349.3 272.9 349.6 270.7 349.9 271.9 350.3 270.7 350.6 271.9 350.9 270.7 351.3 272.3 351.6 270.6 351.9 272.6 352.3 270.4 352.6 272.5 352.9 270.2 353.2 272.5 353.6 270.1 353.9 271.6 354.2 270 354.6 271.6 354.9 270.3 355.2 272.1 355.6 270.3 355.9 271.8 356.2 269.9 356.5 272.4 356.9 270 357.2 272.4 357.5 269.8 357.9 270.6 358.2 268.9 358.5 271.4 358.9 269 359.2 271.6 359.5 268.4 359.8 270.3 360.2 267.5 360.5 270.4 360.8 266.9 361.2 269 361.5 265.3 361.8 269.2 362.2 261.6 362.5 257.9 362.8 251.6 363.1 240.6 363.5 228.2 363.6 226.8 363.8 230.8 364.1 243.8 364.5 253.3 364.8 258.6 365.1 266.7 365.5 263.9 365.8 270.3 366.1 266.4 366.4 268.8 366.8 267.1 367.1 270.1 367.4 267.8 367.8 270.1 368.1 268.1 368.4 270.9 368.8 268.7 369.1 271.4 369.4 268.9 369.7 271.3 370.1 269.8 370.4 271.5 370.7 269.8 371.1 272.3 371.4 270 371.7 272.2 372.1 270.1 372.4 272 372.7 269.9 373 272.1 373.4 270.1 373.7 271.7 374 270.3 374.4 272.9 374.7 270.3 375 272.7 375.4 270.2 375.7 272.7 376 270.5 376.3 272.2 376.7 270.4 377 272.9 377.3 270.3 377.7 272.5 378 270.6 378.3 272.3 378.7 270.4 379 271.9 379.3 270.4 379.6 272.2 380 270.3 380.3 271.5 380.6 270.3 381 271.8 381.3 270 381.6 271.5 382 269.9 382.3 272 382.6 269.8 382.9 272.6 383.3 269.7 383.6 271.6 383.9 269.6 384.3 271.1 384.6 268.9 384.9 270.4 385.3 268.6 385.6 270.3 385.9 268.2 386.2 270.7 386.6 267.8 386.9 270.5 387.2 267.4 387.6 269.1 387.9 265.9 388.2 270.1 388.6 264.3 388.9 267.5 389.2 260.6 389.5 265.9 389.9 250.1 390.2 239.3 390.5 224.3 390.8 218 390.9 218.5 391.2 230.5 391.5 244.1 391.9 252.6 392.2 265.7 392.5 260.8 392.8 267.5 393.2 264.4 393.5 269.9 393.8 266.3 394.2 269 394.5 267.2 394.8 269.2 395.2 267.4 395.5 269.8 395.8 267.8 396.1 271.1 396.5 268.2 396.8 270.5 397.1 268.7 397.5 272.1 397.8 269.4 398.1 272 398.5 269.6 398.8 272.2 399.1 270 399.4 271.1 399.8 270 400.1 271.4 400.4 269.9 400.8 271.9 401.1 269.7 401.4 271.1 401.8 268.9 402.1 270.5 402.4 268.2 402.7 270.9 403.1 268.4 403.4 270.4 403.7 268.7 404.1 270.5 404.4 268.3 404.7 271.3 405.1 269 405.4 271.7 405.7 269.8 406 271 406.4 269.1 406.7 271.3 407 268.9 407.4 272 407.7 270.2 408 271.5 408.4 269.8 408.7 270.8 409 268.8 409.3 271.7 409.7 269.6 410 272.2 410.3 269.7 410.7 270.9 411 269.2 411.3 270.8 411.7 268.3 412 270.5 412.3 268.1 412.6 271.2 413 267.7 413.3 270.3 413.6 267.2 414 270.5 414.3 266.2 414.6 270.1 415 265.2 415.3 267.1 415.6 262.3 415.9 268 416.3 259 416.6 252.8 416.9 245 417.3 231.9 417.6 215.4 417.8 211 417.9 212.9 418.3 227.9 418.6 242.1 418.9 250.6 419.2 267 419.6 259.8 419.9 267.2 420.2 263.2 420.6 267.8 420.9 264.5 421.2 270.4 421.6 266.2 421.9 270.8 422.2 266.9 422.5 269.6 422.9 266.2 423.2 269.6 423.5 266.5 423.9 270.1 424.2 267.2 424.5 269.9 424.9 268.1 425.2 269.7 425.5 267.3 425.8 270.3 426.2 269.2 426.5 271.6 426.8 269.5 427.2 271.4 427.5 269.7 427.8 272.3 428.2 269.9 428.5 272.5 428.8 269.9 429.1 272.7 429.5 269.9 429.8 271.8 430.1 270.3 430.5 272.4 430.8 270.3 431.1 271.7 431.5 270 431.8 272.4 432.1 270.1 432.4 271.3 432.8 269.6 433.1 271.3 433.4 269.5 433.8 271.3 434.1 269.4 434.4 271.9 434.8 269.2 435.1 271.5 435.4 269.4 435.7 270.9 436.1 268.7 436.4 271.5 436.7 268.6 437.1 271 437.4 267.5 437.7 270 438.1 264.2 438.4 268.3 438.7 264.6 439 268.2 439.4 264.7 439.7 269.6 440 263.5 440.4 271.5 440.7 263.8 441 268.6 441.4 264.2 441.7 267.7 442 262.2 442.3 265.5 442.7 260.7 443 269 443.3 256.9 443.7 265.8 444 244.6 444.3 233.6 444.7 216.7 445 206 445 206 445.3 216 445.6 232.5 446 243.7 446.3 266.2 446.6 255.3 447 262.8 447.3 260 447.6 266.9 448 267.9 448.3 269.7 448.6 263.2 448.9 269.6 449.3 265.3 449.6 270.3 449.9 265.7 450.3 271.6 450.6 263.8 450.9 269.7 451.3 264.5 451.6 269.9 451.9 266.6 452.2 269.9 452.6 265.1 452.9 270 453.2 271 453.6 269.6 453.9 267.8 454.2 271.3 454.6 269 454.9 270 455.2 267.2 455.5 270.1 455.9 267 456.2 269.6 456.5 267.4 456.9 270.5 457.2 267.7 457.5 270.7 457.9 268.2 458.2 270.3 458.5 267.8 458.8 270.6 459.2 268.2 459.5 271.5 459.8 269.1 460.2 271.4 460.5 268.1 460.8 270.2 461.2 267.3 461.5 270.6 461.8 268.2 462.1 271.5 462.5 269.5 462.8 270.9 463.1 269.4 463.5 270.2 463.8 268.9 464.1 271.3 464.5 269.1 464.8 271.6 465.1 268.7 465.4 270.1 465.8 268.4 466.1 270.4 466.4 267.3 466.8 269.9 467.1 266.8 467.4 270.5 467.8 266.2 468.1 269.6 468.4 264.9 468.7 267.5 469.1 264.4 469.4 269.9 469.7 262 470.1 270.9 470.4 259.2 470.7 263.9 471.1 253.8 471.4 245.5 471.7 234.6 472 217.9 472.4 206 472.4 206 472.7 215.3 473 231.5 473.4 242.6 473.7 249.6 474 261.2 474.4 256.7 474.7 269.3 475 260.9 475.3 267.6 475.7 262.7 476 266.4 476.3 263.5 476.7 272 477 264.8 477.3 268 477.7 264.4 478 269.9 478.3 264.9 478.6 270.1 479 266.8 479.3 270 479.6 266.1 480 270.4 480.3 268.2 480.6 270 481 268.4 481.3 271.2 481.6 268.8 481.9 270.7 482.3 268.4 482.6 271.5 482.9 269.2 483.3 270.8 483.6 268.4 483.9 270.9 484.3 267.7 484.6 271.5 484.9 268.2 485.2 270.1 485.6 268.3 485.9 270.8 486.2 270.7 486.6 269.1 486.9 265.1 487.2 268.4 487.6 266.3 487.9 270.7 488.2 267.8 488.5 271.1 488.9 267.8 489.2 269.6 489.5 268.9 489.9 271.1 490.2 268.3 490.5 271 490.9 268.1 491.2 270 491.5 267.2 491.8 272.5 492.2 264.9 492.5 269.5 492.8 264.3 493.2 269.9 493.5 264.3 493.8 269.7 494.2 264.4 494.5 268 494.8 270.1 495.1 267.8 495.5 261.9 495.8 266.9 496.1 262.4 496.5 267.2 496.8 260 497.1 270.9 497.5 256.5 497.8 266.7 498.1 246.2 498.4 236.6 498.8 221.3 499.1 207 499.2 206 499.4 211.7 499.8 227 500.1 237.6 500.4 261.4 500.8 247.5 501.1 260.5 501.4 248.5 501.7 270 502.1 249.8 502.4 262.9 502.7 252.8 503.1 262.1 503.4 255.4 503.7 263.2 504.1 255 504.4 273 504.7 255.9 505 265.5 505.4 254 505.7 264.1 506 255 506.4 265.4 506.7 255.3 507 261.6 507.4 254.5 507.7 267 508 255.9 508.3 264.6 508.7 271.8 509 261.8 509.3 254.3 509.7 266.5 510 252.7 510.3 263.6 510.7 251.5 511 273.2 511.3 251.2 511.6 258.4 512 250.6 512.3 261.9 512.6 250.4 513 264.6 513.3 272 513.6 262.1 514 252 514.3 262.1 514.6 250.9 514.9 261 515.3 252.7 515.6 258.9 515.9 269.8 516.3 258.8 516.6 250.9 516.9 263.1 517.3 251.7 517.6 258.9 517.9 249.7 518.2 260.5 518.6 272.5 518.9 265.2 519.2 249.5 519.6 265.6 519.9 250.2 520.2 260.7 520.6 248.6 520.9 264.7 521.2 248.5 521.5 266.4 521.9 246.1 522.2 257.8 522.5 246.5 522.9 257.1 523.2 242 523.5 253.3 523.9 270.5 524.2 260.3 524.5 239.9 524.8 259.6 525.2 238 525.5 231 525.8 225.8 526.2 216.8 526.5 207.1 526.6 206.3 526.8 210.1 527.2 219.5 527.5 225 527.8 231.5 528.1 257.7 528.5 273.3 528.8 259.2 529.1 231.4 529.5 253.3 529.8 231.1 530.1 256.4 530.5 233.7 530.8 254.9 531.1 235.7 531.4 270.2 531.8 237.4 532.1 252.8 532.4 234.8 532.8 257 533.1 237.1 533.4 250.8 533.8 258.3 534.1 252.3 534.4 239 534.7 255.6 535.1 238.3 535.4 259.2 535.7 237.3 536.1 248.4 536.4 273.1 536.7 249.8 537.1 231.1 537.4 253.9 537.7 230.6 538 257.5 538.4 230.1 538.7 256.7 539 230.8 539.4 259.2 539.7 229.5 540 247.8 540.4 229.5 540.7 246.2 541 270.8 541.3 244.5 541.7 227.2 542 248.1 542.3 223.7 542.7 244 543 223.1 543.3 242.8 543.7 260.6 544 236.6 544.3 221 544.6 238.2 545 219 545.3 244.7 545.6 217.3 546 235.2 546.3 217.7 546.6 271.7 547 215.5 547.3 243 547.6 210.1 547.9 236.3 548.3 208.2 548.6 233 548.9 244.2 549.3 224.4 549.6 204.9 549.9 225.9 550.3 203.3 550.6 218.6 550.9 202.8 551.2 230.8 551.6 197.4 551.9 192.5 552.2 189.1 552.6 181.3 552.9 172.9 553.2 165 553.6 151.3 553.9 133.4 554.2 115.3 554.5 100 554.5 103.4 554.9 121.4 555.2 139 555.5 157.1 555.9 167.1 556.2 175.5 556.5 183.7 556.9 190.4 557.2 192.8 557.5 257.5 557.8 226.5 558.2 200.7 558.5 227.4 558.8 204.2 559.2 222.1 559.5 204.6 559.8 248.6 560.2 207.1 560.5 230.3 560.8 206 561.1 227.8 561.5 209.6 561.8 228.6 562.1 210.5 562.5 226.1 562.8 271.4 563.1 231 563.5 214.7 563.8 230.9 564.1 212.9 564.4 241.1 564.8 217.6 565.1 253.2 565.4 215.7 565.8 245.3 566.1 214.4 566.4 234.7 566.8 218.4 567.1 249.7 567.4 271.8 567.7 249.3 568.1 221.9 568.4 243.8 568.7 221.2 569.1 251.9 569.4 224.8 569.7 261.3 570.1 225.4 570.4 248.7 570.7 224 571 245.2 571.4 223.5 571.7 255.3 572 225.1 572.4 273.5 572.7 224 573 245 573.4 227.5 573.7 244.1 574 228.2 574.3 245.8 574.7 232.8 575 272.9 575.3 230.7 575.7 258 576 232.7 576.3 259.2 576.7 236.3 577 247.5 577.3 235.5 577.6 265.3 578 234.5 578.3 246.5 578.6 234.3 579 252.9 579.3 234.9 579.6 251.3 580 232.5 580.3 226.6 580.6 223.3 580.9 215.9 581.3 208 581.3 208 581.6 214.9 581.9 223.4 582.3 227.7 582.6 231.1 582.9 262.8 583.3 236.5 583.6 254.1 583.9 238.4 584.2 257.9 584.6 239.1 584.9 249.5 585.2 272.1 585.6 255.6 585.9 237.5 586.2 249.7 586.6 236.4 586.9 252 587.2 236.9 587.6 260.6 587.9 236 588.2 257.3 588.5 239.2 588.9 259.6 589.2 236.7 589.5 253 589.9 236 590.2 261.3 590.5 271.1 590.9 252.6 591.2 238.5 591.5 256.4 591.8 237.2 592.2 254.2 592.5 236.9 592.8 258.6 593.2 270.4 593.5 257.4 593.8 241 594.2 256.3 594.5 241.6 594.8 253.6 595.1 241.5 595.5 256.8 595.8 241 596.1 269.8 596.5 238.9 596.8 253.7 597.1 240.3 597.5 251.4 597.8 236.7 598.1 251.3 598.4 238.1 598.8 259.2 599.1 272.3 599.4 249.7 599.8 236.8 600.1 257.3 600.4 235.9 600.8 251.7 601.1 235 601.4 251.8 601.7 272.5 602.1 260.5 602.4 235.4 602.7 255.3 603.1 235.3 603.4 247.6 603.7 260.6 604.1 249.8 604.4 234.7 604.7 254.4 605 232.1 605.4 254.1 605.7 229.3 606 272.2 606.4 232.2 606.7 256.9 607 229.4 607.4 246.6 607.7 229.3 608 245.6 608.3 222.1 608.7 219.6 609 215.1 609.3 209.7 609.4 209.4 609.7 212.4 610 216.6 610.3 218.3 610.7 246.3 611 223.6 611.3 245.7 611.6 253.6 612 246.6 612.3 217.6 612.6 248.7 613 214.6 613.3 236.8 613.6 213.6 614 234.4 614.3 272.7 614.6 238 614.9 209.4 615.3 223.8 615.6 206.1 615.9 218.7 616.3 200.9 616.6 270.6 616.9 185.7 617.3 207.9 617.6 180.4 617.9 160 618.2 142.7 618.6 126.4 618.9 109.9 619 104 619.2 116.1 619.6 132.7 619.9 149.8 620.2 272.4 620.6 198.8 620.9 189.2 621.2 225.4 621.5 203.2 621.9 228.7 622.2 212.1 622.5 269.4 622.9 214 623.2 245.8 623.5 217.1 623.9 235.6 624.2 220.6 624.5 240.7 624.8 273 625.2 247.5 625.5 221.4 625.8 249.1 626.2 228.4 626.5 249.5 626.8 232.4 627.2 272.9 627.5 234.1 627.8 250 628.1 234.2 628.5 256.5 628.8 237.6 629.1 258.9 629.5 238.3 629.8 273.1 630.1 239.1 630.5 257.3 630.8 238.4 631.1 252 631.4 240.5 631.8 257 632.1 269.7 632.4 258.9 632.8 241.9 633.1 255 633.4 243.1 633.8 262.2 634.1 243 634.4 273.1 634.7 244.9 635.1 260.6 635.4 242.6 635.7 240.1 636.1 234.5 636.4 228.8 636.4 228.8 636.7 234.2 637.1 240.9 637.4 244.3 637.7 256.7 638 248.4 638.4 259.9 638.7 249.6 639 271.4 639.4 250.6 639.7 266.1 640 253.5 640.4 266.3 640.7 254.3 641 261.2 641.3 255.1 641.7 267.1 642 269.9 642.3 266.7 642.7 255.9 643 267.5 643.3 257.6 643.7 263.4 644 257.7 644.3 271.7 644.6 257.8 645 266.8 645.3 258.2 645.6 262.8 646 258.8 646.3 265.4 646.6 258.8 647 268.2 647.3 260.3 647.6 267.2 647.9 259.8 648.3 265 648.6 260.4 648.9 268.2 649.3 270.7 649.6 269 649.9 261.1 650.3 265.9 650.6 262.5 650.9 266.2 651.2 262.2 651.6 269.6 651.9 262.4 652.2 268.9 652.6 262.2 652.9 268.7 653.2 263 653.6 268.1 653.9 271.4 654.2 268.4 654.5 263.7 654.9 269.4 655.2 263.9 655.5 268.2 655.9 263.4 656.2 269.5 656.5 264.8 656.9 267.8 657.2 264.9 657.5 269.1 657.8 264.6 658.2 269.1 658.5 265.1 658.8 268 659.2 265.8 659.5 272.5 659.8 265.5 660.2 270.2 660.5 265.5 660.8 270.5 661.1 266.1 661.5 270.4 661.8 266 662.1 272.5 662.5 265.5 662.8 268.3 663.1 260.5 663.5 254.9 663.8 244.8 664 240.6 664.1 241.8 664.4 252.1 664.8 259.6 665.1 263.3 665.4 269.3 665.8 266.8 666.1 270.4 666.4 267 666.8 270.6 667.1 267.4 667.4 271 667.7 268.1 668.1 270.1 668.4 268.1 668.7 270.7 669.1 267.9 669.4 270.8 669.7 267.8 670.1 271 670.4 268.6 670.7 270.6 671 268.3 671.4 270.8 671.7 267.2 672 270.5 672.4 267.8 672.7 270.4 673 268.4 673.4 270.1 673.7 268.9 674 272.1 674.3 269.3 674.7 270.8 675 268.8" fill="none" stroke="#f01212" stroke-width="1.2" stroke-linejoin="round"/>
<rect x="321.3" y="27.6" width="354.7" height="259" fill="none" stroke="#000" stroke-width="2.2"/>
<path d="M321.3 283.5h3M676 283.5h-3M321.3 280.8h3M676 280.8h-3M321.3 278.4h3M676 278.4h-3M321.3 276.4h3M676 276.4h-3M321.3 274.6h3M676 274.6h-3M321.3 273h5.5M676 273h-5.5M321.3 262.4h3M676 262.4h-3M321.3 256.2h3M676 256.2h-3M321.3 251.9h3M676 251.9h-3M321.3 248.5h3M676 248.5h-3M321.3 245.7h3M676 245.7h-3M321.3 243.3h3M676 243.3h-3M321.3 241.3h3M676 241.3h-3M321.3 239.5h3M676 239.5h-3M321.3 237.9h5.5M676 237.9h-5.5M321.3 227.3h3M676 227.3h-3M321.3 221.2h3M676 221.2h-3M321.3 216.8h3M676 216.8h-3M321.3 213.4h3M676 213.4h-3M321.3 210.6h3M676 210.6h-3M321.3 208.3h3M676 208.3h-3M321.3 206.2h3M676 206.2h-3M321.3 204.4h3M676 204.4h-3M321.3 202.8h5.5M676 202.8h-5.5M321.3 192.3h3M676 192.3h-3M321.3 186.1h3M676 186.1h-3M321.3 181.7h3M676 181.7h-3M321.3 178.3h3M676 178.3h-3M321.3 175.5h3M676 175.5h-3M321.3 173.2h3M676 173.2h-3M321.3 171.2h3M676 171.2h-3M321.3 169.4h3M676 169.4h-3M321.3 167.8h5.5M676 167.8h-5.5M321.3 157.2h3M676 157.2h-3M321.3 151h3M676 151h-3M321.3 146.6h3M676 146.6h-3M321.3 143.2h3M676 143.2h-3M321.3 140.5h3M676 140.5h-3M321.3 138.1h3M676 138.1h-3M321.3 136.1h3M676 136.1h-3M321.3 134.3h3M676 134.3h-3M321.3 132.7h5.5M676 132.7h-5.5M321.3 122.1h3M676 122.1h-3M321.3 116h3M676 116h-3M321.3 111.6h3M676 111.6h-3M321.3 108.2h3M676 108.2h-3M321.3 105.4h3M676 105.4h-3M321.3 103.1h3M676 103.1h-3M321.3 101h3M676 101h-3M321.3 99.2h3M676 99.2h-3M321.3 97.6h5.5M676 97.6h-5.5M321.3 87.1h3M676 87.1h-3M321.3 80.9h3M676 80.9h-3M321.3 76.5h3M676 76.5h-3M321.3 73.1h3M676 73.1h-3M321.3 70.3h3M676 70.3h-3M321.3 68h3M676 68h-3M321.3 65.9h3M676 65.9h-3M321.3 64.2h3M676 64.2h-3M321.3 62.6h5.5M676 62.6h-5.5M321.3 52h3M676 52h-3M321.3 45.8h3M676 45.8h-3M321.3 41.4h3M676 41.4h-3M321.3 38h3M676 38h-3M321.3 35.3h3M676 35.3h-3M321.3 32.9h3M676 32.9h-3M321.3 30.9h3M676 30.9h-3M321.3 29.1h3M676 29.1h-3M350.2 286.6v-3.2M350.2 27.6v3.2M379.9 286.6v-5.3M379.9 27.6v5.3M409.6 286.6v-3.2M409.6 27.6v3.2M439.2 286.6v-5.3M439.2 27.6v5.3M468.9 286.6v-3.2M468.9 27.6v3.2M498.5 286.6v-5.3M498.5 27.6v5.3M528.1 286.6v-3.2M528.1 27.6v3.2M557.8 286.6v-5.3M557.8 27.6v5.3M587.5 286.6v-3.2M587.5 27.6v3.2M617.1 286.6v-5.3M617.1 27.6v5.3M646.8 286.6v-3.2M646.8 27.6v3.2" stroke="#000" stroke-width="1.6" fill="none"/>
<text transform="matrix(1 0 0 1.04 0 -11.1)" x="292.2" y="277.6" font-size="13.4" fill="#111" stroke="#111" font-family="Liberation Sans, sans-serif"> 0<tspan font-size="8" dy="-7.1">- </tspan></text><path transform="matrix(1 0 0 1.04 0 -11.1) translate(292.20 277.60) scale(0.00643 -0.00643)" d="M515 0L515 1237L197 1010L197 1180L530 1409L696 1409L696 0Z" fill="#111" stroke="#111" stroke-width="0.35" vector-effect="non-scaling-stroke"/><path transform="matrix(1 0 0 1.04 0 -11.1) translate(309.75 270.50) scale(0.00386 -0.00386)" d="M515 0L515 1237L197 1010L197 1180L530 1409L696 1409L696 0Z" fill="#111" stroke="#111" stroke-width="0.35" vector-effect="non-scaling-stroke"/>
<text transform="matrix(1 0 0 1.04 0 -9.7)" x="295" y="242.5" font-size="13.4" fill="#111" stroke="#111" font-family="Liberation Sans, sans-serif"> 0<tspan font-size="8" dy="-7.1">0</tspan></text><path transform="matrix(1 0 0 1.04 0 -9.7) translate(295.00 242.50) scale(0.00643 -0.00643)" d="M515 0L515 1237L197 1010L197 1180L530 1409L696 1409L696 0Z" fill="#111" stroke="#111" stroke-width="0.35" vector-effect="non-scaling-stroke"/>
<text transform="matrix(1 0 0 1.04 0 -8.3)" x="295" y="207.4" font-size="13.4" fill="#111" stroke="#111" font-family="Liberation Sans, sans-serif"> 0<tspan font-size="8" dy="-7.1"> </tspan></text><path transform="matrix(1 0 0 1.04 0 -8.3) translate(295.00 207.40) scale(0.00643 -0.00643)" d="M515 0L515 1237L197 1010L197 1180L530 1409L696 1409L696 0Z" fill="#111" stroke="#111" stroke-width="0.35" vector-effect="non-scaling-stroke"/><path transform="matrix(1 0 0 1.04 0 -8.3) translate(309.90 200.30) scale(0.00386 -0.00386)" d="M515 0L515 1237L197 1010L197 1180L530 1409L696 1409L696 0Z" fill="#111" stroke="#111" stroke-width="0.35" vector-effect="non-scaling-stroke"/>
<text transform="matrix(1 0 0 1.04 0 -6.9)" x="295" y="172.4" font-size="13.4" fill="#111" stroke="#111" font-family="Liberation Sans, sans-serif"> 0<tspan font-size="8" dy="-7.1">2</tspan></text><path transform="matrix(1 0 0 1.04 0 -6.9) translate(295.00 172.40) scale(0.00643 -0.00643)" d="M515 0L515 1237L197 1010L197 1180L530 1409L696 1409L696 0Z" fill="#111" stroke="#111" stroke-width="0.35" vector-effect="non-scaling-stroke"/>
<text transform="matrix(1 0 0 1.04 0 -5.5)" x="295" y="137.3" font-size="13.4" fill="#111" stroke="#111" font-family="Liberation Sans, sans-serif"> 0<tspan font-size="8" dy="-7.1">3</tspan></text><path transform="matrix(1 0 0 1.04 0 -5.5) translate(295.00 137.30) scale(0.00643 -0.00643)" d="M515 0L515 1237L197 1010L197 1180L530 1409L696 1409L696 0Z" fill="#111" stroke="#111" stroke-width="0.35" vector-effect="non-scaling-stroke"/>
<text transform="matrix(1 0 0 1.04 0 -4.1)" x="295" y="102.2" font-size="13.4" fill="#111" stroke="#111" font-family="Liberation Sans, sans-serif"> 0<tspan font-size="8" dy="-7.1">4</tspan></text><path transform="matrix(1 0 0 1.04 0 -4.1) translate(295.00 102.20) scale(0.00643 -0.00643)" d="M515 0L515 1237L197 1010L197 1180L530 1409L696 1409L696 0Z" fill="#111" stroke="#111" stroke-width="0.35" vector-effect="non-scaling-stroke"/>
<text transform="matrix(1 0 0 1.04 0 -2.7)" x="295" y="67.2" font-size="13.4" fill="#111" stroke="#111" font-family="Liberation Sans, sans-serif"> 0<tspan font-size="8" dy="-7.1">5</tspan></text><path transform="matrix(1 0 0 1.04 0 -2.7) translate(295.00 67.20) scale(0.00643 -0.00643)" d="M515 0L515 1237L197 1010L197 1180L530 1409L696 1409L696 0Z" fill="#111" stroke="#111" stroke-width="0.35" vector-effect="non-scaling-stroke"/>
<text transform="matrix(1 0 0 1.04 0 -1.3)" x="295" y="32.1" font-size="13.4" fill="#111" stroke="#111" font-family="Liberation Sans, sans-serif"> 0<tspan font-size="8" dy="-7.1">6</tspan></text><path transform="matrix(1 0 0 1.04 0 -1.3) translate(295.00 32.10) scale(0.00643 -0.00643)" d="M515 0L515 1237L197 1010L197 1180L530 1409L696 1409L696 0Z" fill="#111" stroke="#111" stroke-width="0.35" vector-effect="non-scaling-stroke"/>
<text transform="matrix(1 0 0 1.04 0 -12.2)" x="320.6" y="304.3" font-size="14" text-anchor="middle" fill="#111" stroke="#111" font-family="Liberation Sans, sans-serif">3 </text><path transform="matrix(1 0 0 1.04 0 -12.2) translate(320.58 304.30) scale(0.00685 -0.00685)" d="M515 0L515 1237L197 1010L197 1180L530 1409L696 1409L696 0Z" fill="#111" stroke="#111" stroke-width="0.35" vector-effect="non-scaling-stroke"/>
<text transform="matrix(1 0 0 1.04 0 -12.2)" x="379.9" y="304.3" font-size="14" text-anchor="middle" fill="#111" stroke="#111" font-family="Liberation Sans, sans-serif">32</text>
<text transform="matrix(1 0 0 1.04 0 -12.2)" x="439.2" y="304.3" font-size="14" text-anchor="middle" fill="#111" stroke="#111" font-family="Liberation Sans, sans-serif">33</text>
<text transform="matrix(1 0 0 1.04 0 -12.2)" x="498.5" y="304.3" font-size="14" text-anchor="middle" fill="#111" stroke="#111" font-family="Liberation Sans, sans-serif">34</text>
<text transform="matrix(1 0 0 1.04 0 -12.2)" x="557.8" y="304.3" font-size="14" text-anchor="middle" fill="#111" stroke="#111" font-family="Liberation Sans, sans-serif">35</text>
<text transform="matrix(1 0 0 1.04 0 -12.2)" x="617.1" y="304.3" font-size="14" text-anchor="middle" fill="#111" stroke="#111" font-family="Liberation Sans, sans-serif">36</text>
<text transform="matrix(1 0 0 1.04 0 -12.2)" x="676.4" y="304.3" font-size="14" text-anchor="middle" fill="#111" stroke="#111" font-family="Liberation Sans, sans-serif">37</text>
<text transform="matrix(1 0 0 1.04 0 -12.9)" x="457.8" y="323" font-size="16" fill="#111" stroke="#111" font-family="Liberation Sans, sans-serif">2</text>
<text transform="matrix(1 0 0 1.04 0 -12.9)" x="467.0" y="323" font-size="16.5" fill="#111" stroke="#111" style="stroke-width:0.15px" font-family="Liberation Serif, serif">&#952;</text>
<text transform="matrix(1 0 0 1.04 0 -12.9)" x="474.1" y="323" font-size="16" fill="#111" stroke="#111" font-family="Liberation Sans, sans-serif">-</text>
<text transform="translate(481.0 323) scale(1.2 1.04)" font-size="16.5" fill="#111" stroke="#111" style="stroke-width:0.15px" font-family="Liberation Serif, serif">&#969;</text>
<text transform="matrix(1 0 0 1.04 0 -12.9)" x="494.0" y="323" font-size="16.3" fill="#111" stroke="#111" font-family="Liberation Sans, sans-serif">(degree)</text>
<text transform="translate(273.6 223.2) rotate(-90)" font-size="16.5" fill="#111" stroke="#111" font-family="Liberation Sans, sans-serif">XRD Intensity(a.u.)</text>
<text transform="matrix(1 0 0 1.04 0 -0.9)" x="264.5" y="22.7" font-size="17.5" fill="#111" stroke="#111" font-family="Liberation Sans, sans-serif">(b)</text>
<line x1="349.2" y1="70.2" x2="378.9" y2="70.2" stroke="#000" stroke-width="1.2"/>
<line x1="349.2" y1="88.6" x2="378.9" y2="88.6" stroke="#e82020" stroke-width="1.1"/>
<text transform="matrix(1 0 0 1.04 0 -3)" x="383.7" y="74.8" font-size="15.4" fill="#111" stroke="#111" font-family="Liberation Sans, sans-serif">Experimental Data</text>
<text transform="matrix(1 0 0 1.04 0 -3.7)" x="383.7" y="93.2" font-size="15.4" fill="#111" stroke="#111" font-family="Liberation Sans, sans-serif">Fitting Line</text>
<text transform="matrix(1 0 0 1.04 0 -3.1)" x="523.2" y="78.5" font-size="13.1" fill="#111" stroke="#111" font-family="Liberation Sans, sans-serif">step-QWs 0</text>
<text transform="matrix(1 0 0 1.04 0 -2.4)" x="611.2" y="61" font-size="12.8" fill="#111" stroke="#111" font-family="Liberation Sans, sans-serif">AlN</text>
<text transform="matrix(1 0 0 1.04 0 -7.6)" x="328.2" y="190.9" font-size="12.5" fill="#111" stroke="#111" font-family="Liberation Sans, sans-serif">-8</text>
<text transform="matrix(1 0 0 1.04 0 -7.5)" x="357.1" y="187.8" font-size="12.5" fill="#111" stroke="#111" font-family="Liberation Sans, sans-serif">-7</text>
<text transform="matrix(1 0 0 1.04 0 -7.4)" x="383.4" y="185.7" font-size="12.5" fill="#111" stroke="#111" font-family="Liberation Sans, sans-serif">-6</text>
<text transform="matrix(1 0 0 1.04 0 -7.2)" x="408.7" y="179.9" font-size="12.5" fill="#111" stroke="#111" font-family="Liberation Sans, sans-serif">-5</text>
<text transform="matrix(1 0 0 1.04 0 -7.1)" x="437.8" y="176.9" font-size="12.5" fill="#111" stroke="#111" font-family="Liberation Sans, sans-serif">-4</text>
<text transform="matrix(1 0 0 1.04 0 -7)" x="465.3" y="175.1" font-size="12.5" fill="#111" stroke="#111" font-family="Liberation Sans, sans-serif">-3</text>
<text transform="matrix(1 0 0 1.04 0 -7)" x="491.1" y="173.9" font-size="12.5" fill="#111" stroke="#111" font-family="Liberation Sans, sans-serif">-2</text>
<text transform="matrix(1 0 0 1.04 0 -6.8)" x="520.1" y="170.8" font-size="12.5" fill="#111" stroke="#111" font-family="Liberation Sans, sans-serif">- </text><path transform="matrix(1 0 0 1.04 0 -6.8) translate(524.25 170.80) scale(0.00643 -0.00643)" d="M515 0L515 1237L197 1010L197 1180L530 1409L696 1409L696 0Z" fill="#111" stroke="#111" stroke-width="0.35" vector-effect="non-scaling-stroke"/>
<text transform="matrix(1 0 0 1.04 0 -6.8)" x="578.6" y="169.1" font-size="12.5" fill="#111" stroke="#111" font-family="Liberation Sans, sans-serif"> </text><path transform="matrix(1 0 0 1.04 0 -6.8) translate(578.60 169.10) scale(0.00643 -0.00643)" d="M515 0L515 1237L197 1010L197 1180L530 1409L696 1409L696 0Z" fill="#111" stroke="#111" stroke-width="0.35" vector-effect="non-scaling-stroke"/>
<text transform="matrix(1 0 0 1.04 0 -6.8)" x="601.9" y="169.9" font-size="12.5" fill="#111" stroke="#111" font-family="Liberation Sans, sans-serif">2</text>
<text transform="matrix(1 0 0 1.04 0 -7.5)" x="631.6" y="187.6" font-size="12.5" fill="#111" stroke="#111" font-family="Liberation Sans, sans-serif">3</text>
<text transform="matrix(1 0 0 1.04 0 -7.7)" x="658.1" y="192.4" font-size="12.5" fill="#111" stroke="#111" font-family="Liberation Sans, sans-serif">4</text>
</svg>
</body></html>
